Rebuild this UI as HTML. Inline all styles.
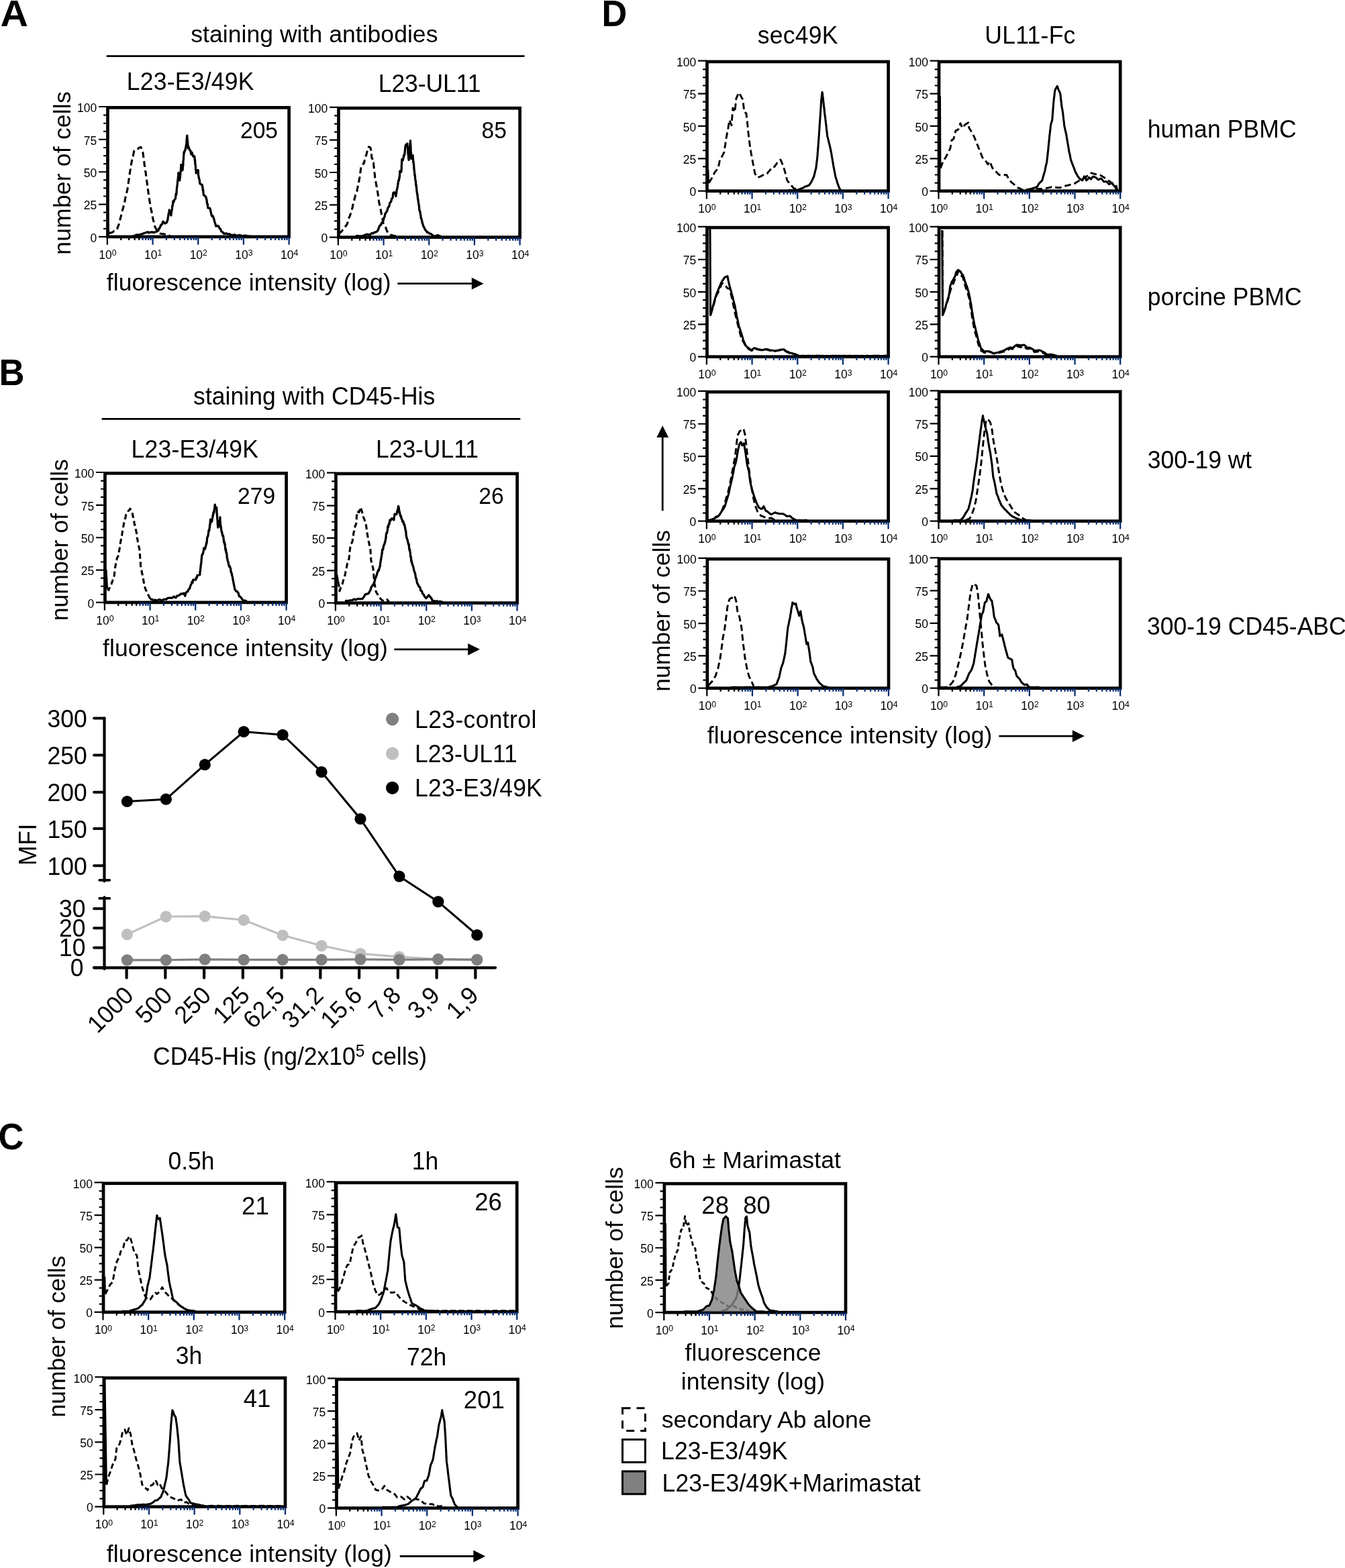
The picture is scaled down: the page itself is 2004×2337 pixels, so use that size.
<!DOCTYPE html>
<html lang="en">
<head>
<meta charset="utf-8">
<title>Figure</title>
<style>
html,body{margin:0;padding:0;background:#fff;}
body{width:2004px;height:2337px;overflow:hidden;}
svg{display:block;}
text{font-family:"Liberation Sans",Arial,Helvetica,sans-serif;fill:#000;}
</style>
</head>
<body>
<svg width="2004" height="2337" viewBox="0 0 2004 2337">
<rect width="2004" height="2337" fill="#fff"/>
<text transform="translate(0.57 39) scale(1.073 1.04)" font-size="53.5" font-weight="bold">A</text>
<text transform="translate(-1.52 574) scale(0.984 1.04)" font-size="53.5" font-weight="bold">B</text>
<text transform="translate(-2.45 1712.5) scale(0.981 1.04)" font-size="53.5" font-weight="bold">C</text>
<text transform="translate(896.4 39) scale(0.978 1.04)" font-size="53.5" font-weight="bold">D</text>
<text x="284.31" y="62.6" font-size="35.5" textLength="368.07" lengthAdjust="spacing">staining with antibodies</text>
<line x1="158.7" y1="83.7" x2="781.5" y2="83.7" stroke="#000" stroke-width="2.7"/>
<text transform="translate(188.79 133.7) scale(1 1.03)" font-size="35.5" textLength="189.71" lengthAdjust="spacing">L23-E3/49K</text>
<text transform="translate(563.79 136.6) scale(1 1.03)" font-size="35.5" textLength="152.65" lengthAdjust="spacing">L23-UL11</text>
<text transform="translate(104.6 379.76) rotate(-90) scale(1 1.0)" font-size="35.5" textLength="243.44" lengthAdjust="spacing">number of cells</text>
<text x="158.8" y="433.1" font-size="35.5" textLength="423.9" lengthAdjust="spacing">fluorescence intensity (log)</text>
<line x1="592.3" y1="422.7" x2="703.8" y2="422.7" stroke="#000" stroke-width="2.8"/>
<polygon points="720.6,422.7 702.8,413.8 702.8,431.6" fill="#000"/>
<g id="A1">
<clipPath id="c1"><rect x="158.45" y="158.35" width="274.15" height="196.75"/></clipPath>
<path d="M147 352.9H159.9M154.1 340.82H159.9M154.1 328.74H159.9M154.1 316.66H159.9M147 304.57H159.9M154.1 292.49H159.9M154.1 280.41H159.9M154.1 268.33H159.9M147 256.25H159.9M154.1 244.17H159.9M154.1 232.09H159.9M154.1 220.01H159.9M147 207.92H159.9M154.1 195.84H159.9M154.1 183.76H159.9M154.1 171.68H159.9M147 159H159.9" stroke="#000" stroke-width="2.2" fill="none"/>
<rect x="160.45" y="160.35" width="270.15" height="192.55" fill="none" stroke="#000" stroke-width="4.7"/>
<path d="M159.9 352.9V364.7M180.27 352.9V358M192.19 352.9V358M200.64 352.9V358M207.2 352.9V358" stroke="#000" stroke-width="2.25" fill="none"/>
<path d="M212.56 352.9V358M217.09 352.9V358M221.01 352.9V358M224.47 352.9V358M227.57 352.9V364.7M247.94 352.9V358M259.86 352.9V358M268.31 352.9V358M274.87 352.9V358M280.23 352.9V358M284.76 352.9V358M288.68 352.9V358M292.14 352.9V358M295.24 352.9V364.7M315.61 352.9V358M327.53 352.9V358M335.98 352.9V358M342.54 352.9V358M347.9 352.9V358M352.43 352.9V358M356.35 352.9V358M359.81 352.9V358M362.91 352.9V364.7M383.28 352.9V358M395.2 352.9V358M403.65 352.9V358M410.21 352.9V358M415.57 352.9V358M420.1 352.9V358M424.02 352.9V358M427.48 352.9V358M430.58 352.9V364.7" stroke="#062b70" stroke-width="2.25" fill="none"/>
<g clip-path="url(#c1)" fill="none" stroke="#000" stroke-width="3.3" stroke-linejoin="round" stroke-linecap="butt">
<polyline points="160.44,333.77 161.84,347.75"/>
<polyline points="162.34,347.75 165.14,346.9 167.93,345.99 169.93,344.4 171.93,344.17 173.93,342.37 174.73,341.18 175.53,337.78 176.33,336.47 177.12,334.68 177.92,331.17 178.49,328.93 179.07,326.88 179.64,324.19 180.21,322.74 180.78,319.49 181.35,318.51 181.92,315.85 182.49,313.03 183.06,311.44 183.63,309.85 184.2,306.67 184.77,303.59 185.34,301.14 185.91,300.68 186.41,296.57 186.91,294.29 187.41,292.21 187.91,290.88 188.41,289.07 188.91,286.42 189.41,284.31 189.91,282.48 190.24,279.64 190.58,278.29 190.91,274.43 191.24,273.35 191.57,270.79 191.91,267.29 192.24,266.53 192.57,263.18 192.91,262.28 193.24,258.96 193.57,256.3 193.91,254.8 194.24,252.67 194.57,251.17 194.9,248.48 195.24,247.39 195.57,243.44 195.9,243.05 196.47,239.12 197.04,237.22 197.62,233.74 198.19,233.03 198.76,229.78 199.33,227.27 199.9,224.68 201.4,223.96 202.9,222.48 205.23,222 207.56,219.95 209.89,219.24 211.09,222.31 212.28,224.4 212.61,226.67 212.93,227.17 213.26,230.57 213.58,231.65 213.91,235.67 214.23,238.38 214.56,238.96 214.88,241.99 215.18,245.29 215.48,247.57 215.78,247.87 216.08,251.91 216.38,253.59 216.68,255.72 216.98,256.25 217.28,258.24 217.58,261.62 217.88,263.72 218.18,265.89 218.48,267.61 218.78,270.2 219.08,272.71 219.38,273.95 219.68,278.12 219.98,278.07 220.28,281.08 220.58,283.44 220.88,285.59 221.21,289.02 221.54,289.85 221.87,292.11 222.21,294.24 222.54,296.38 222.87,299.51 223.21,300.63 223.54,302.76 223.87,305.8 224.32,307.41 224.76,310.56 225.2,312.64 225.65,314 226.09,316.55 226.54,319.83 226.98,321.1 227.42,324.18 227.87,326.04 228.47,328.84 229.07,330.08 229.67,333.12 230.26,334.92 230.86,337.94 232.2,340.48 233.53,342.68 234.86,344.44 236.52,346.54 238.19,347.87 239.85,348.33 242.52,348.57 245.18,349.22 247.84,349.54 250.84,350.92 253.84,351.65" stroke-width="3.1" stroke-dasharray="9 5"/>
<polyline points="197.9,351.6 200.56,351.49 203.23,349.89 205.89,350.19 208.89,349.5 211.89,348.58 214.88,347.5 217.88,346.54 219.88,345.74 221.87,347.02 223.87,346.11 226.87,345.95 229.86,346.6 231.86,345.43 233.86,344.99 235.86,343.7 236.86,340.48 237.86,340 238.85,337.78 239.85,335.09 241.35,334.58 242.85,330.32 245.85,333.06 247.18,332.4 248.51,331.38 249.84,327.41 250.24,324.53 250.64,322.6 251.04,318.83 251.44,319.91 251.84,316.77 252.24,312.82 253.11,317.08 253.97,317.57 254.84,320.96 255.21,317.7 255.59,314.97 255.96,312.92 256.34,312.53 256.71,307.01 257.08,306.89 257.46,305.56 257.83,299.81 258.83,300.96 259.83,297.81 260.83,297 261.5,295.29 262.16,288.91 262.83,290.07 263.06,285.17 263.29,283.45 263.52,280.01 263.75,278.11 263.98,276.95 264.21,274.38 264.44,272.45 264.67,269.45 264.9,268.59 265.13,268 265.36,264.67 265.59,261.88 265.82,257.54 266.49,260.12 267.16,265.06 267.82,268.88 268.04,263.36 268.27,265.78 268.49,260.31 268.71,260.87 268.93,256.74 269.15,255.48 269.38,253.97 269.6,251.35 269.82,245.36 270.49,247.64 271.15,252.99 271.82,253.88 271.99,251.89 272.16,252.92 272.33,248.95 272.5,245.36 272.67,247.37 272.85,245.76 273.02,239.56 273.19,238.43 273.36,238.49 273.53,234.46 273.7,231.81 273.87,229.81 274.04,226.65 274.21,228.65 275.08,225.05 275.95,223.83 276.81,219.02 277.1,219 277.38,216.11 277.67,216.72 277.95,211.5 278.24,207.27 278.52,204.76 278.81,202.14 279.01,210 279.21,206.5 279.41,214.33 279.61,210.77 279.81,214.18 280.01,220.86 280.21,217.13 281.51,220.57 282.81,223.9 283.8,224.42 284.8,230.06 285.8,227 287.8,233.12 289.8,232.91 290,236.65 290.2,237 290.4,240.37 290.6,238.21 290.8,244.85 291,244.36 291.2,245.5 291.4,249.33 291.6,253.08 291.8,253.44 291.99,253.6 292.19,258.02 293.49,256.32 294.79,253.54 295.17,253.64 295.54,261.1 295.92,262.41 296.29,265.2 296.66,265.72 297.04,268.04 297.41,268.75 297.79,273.7 300.79,275.46 301.16,275.38 301.53,278.83 301.91,278.23 302.28,283.96 302.66,282.84 303.03,287.7 303.41,290.9 303.78,290.74 306.78,293.46 307.28,296.28 307.78,296.57 308.28,300.91 308.78,304.55 309.28,303.78 309.77,309.82 312.77,310.29 313.37,312.31 313.97,314.98 314.57,318.2 315.17,320.67 315.77,322.14 317.27,321.91 318.76,326.28 319.51,329.4 320.26,332 321.01,334.23 321.76,337.09 323.76,336.71 325.76,337.17 327.09,340.5 328.42,341.02 329.75,344.93 331.75,346.05 333.75,348.41 336.74,347.88 339.74,348.87 342.24,348.95 344.74,350.38 347.23,350.29 349.73,349.9 352.06,351.16 354.39,351.15 356.72,350.29 359.05,351.04 361.38,352.16 363.71,351.24 366.21,351.06 368.71,351.94 371.21,352.32 373.7,352.1"/>
</g>
<text transform="translate(144.3 360.5) scale(1 1.03)" font-size="17.5" text-anchor="end">0</text>
<text transform="translate(144.3 312.18) scale(1 1.03)" font-size="17.5" text-anchor="end">25</text>
<text transform="translate(144.3 263.85) scale(1 1.03)" font-size="17.5" text-anchor="end">50</text>
<text transform="translate(144.3 215.52) scale(1 1.03)" font-size="17.5" text-anchor="end">75</text>
<text transform="translate(144.3 167.2) scale(1 1.03)" font-size="17.5" text-anchor="end">100</text>
<text transform="translate(147.3 385.6) scale(1 1.03)" font-size="17.5">10<tspan font-size="12.3" dy="-4.6">0</tspan></text>
<text transform="translate(214.97 385.6) scale(1 1.03)" font-size="17.5">10<tspan font-size="12.3" dy="-4.6">1</tspan></text>
<text transform="translate(282.64 385.6) scale(1 1.03)" font-size="17.5">10<tspan font-size="12.3" dy="-4.6">2</tspan></text>
<text transform="translate(350.31 385.6) scale(1 1.03)" font-size="17.5">10<tspan font-size="12.3" dy="-4.6">3</tspan></text>
<text transform="translate(417.98 385.6) scale(1 1.03)" font-size="17.5">10<tspan font-size="12.3" dy="-4.6">4</tspan></text>
</g>
<g id="A2">
<clipPath id="c2"><rect x="502.45" y="159.15" width="274.15" height="196.65"/></clipPath>
<path d="M491 353.6H503.9M498.1 341.53H503.9M498.1 329.45H503.9M498.1 317.38H503.9M491 305.3H503.9M498.1 293.23H503.9M498.1 281.15H503.9M498.1 269.08H503.9M491 257H503.9M498.1 244.93H503.9M498.1 232.85H503.9M498.1 220.78H503.9M491 208.7H503.9M498.1 196.62H503.9M498.1 184.55H503.9M498.1 172.47H503.9M491 159.8H503.9" stroke="#000" stroke-width="2.2" fill="none"/>
<rect x="504.45" y="161.15" width="270.15" height="192.45" fill="none" stroke="#000" stroke-width="4.7"/>
<path d="M503.9 353.6V365.4M524.27 353.6V358.7M536.19 353.6V358.7M544.64 353.6V358.7M551.2 353.6V358.7" stroke="#000" stroke-width="2.25" fill="none"/>
<path d="M556.56 353.6V358.7M561.09 353.6V358.7M565.01 353.6V358.7M568.47 353.6V358.7M571.57 353.6V365.4M591.94 353.6V358.7M603.86 353.6V358.7M612.31 353.6V358.7M618.87 353.6V358.7M624.23 353.6V358.7M628.76 353.6V358.7M632.68 353.6V358.7M636.14 353.6V358.7M639.24 353.6V365.4M659.61 353.6V358.7M671.53 353.6V358.7M679.98 353.6V358.7M686.54 353.6V358.7M691.9 353.6V358.7M696.43 353.6V358.7M700.35 353.6V358.7M703.81 353.6V358.7M706.91 353.6V365.4M727.28 353.6V358.7M739.2 353.6V358.7M747.65 353.6V358.7M754.21 353.6V358.7M759.57 353.6V358.7M764.1 353.6V358.7M768.02 353.6V358.7M771.48 353.6V358.7M774.58 353.6V365.4" stroke="#062b70" stroke-width="2.25" fill="none"/>
<g clip-path="url(#c2)" fill="none" stroke="#000" stroke-width="3.3" stroke-linejoin="round" stroke-linecap="butt">
<polyline points="504.94,348.75 506.94,346.66 508.94,345.03 510.6,342.64 512.27,340.94 513.93,339.32 514.93,337.18 515.93,335.79 516.93,334.38 517.93,331.8 518.59,329.32 519.26,327.25 519.93,325.03 520.59,323.13 521.26,321.94 521.92,319.99 522.59,317.95 523.26,315.39 523.92,313.01 524.59,311.31 525.25,308.94 525.92,304.98 526.52,303.16 527.12,301.61 527.72,298.83 528.32,295.48 528.92,293.62 529.66,290.5 530.41,289.15 531.16,286.57 531.91,284.79 532.41,281.11 532.91,279.31 533.41,275.83 533.91,275.31 534.41,271.66 534.91,270.23 535.24,266.6 535.57,266.13 535.91,264.22 536.24,261.26 536.57,259.91 536.91,256.39 537.24,254.88 537.57,251.4 537.91,249.12 539.4,247.93 540.9,246.46 541.65,242.74 542.4,243.1 543.15,239.31 543.9,238.01 544.5,235.31 545.1,232.51 545.7,231.5 546.3,228.51 546.9,226.28 547.54,224.19 548.19,221.27 548.84,221.13 549.49,218.93 551.89,219.94 552.18,221.26 552.46,222.56 552.75,224.04 553.03,228.89 553.32,228.94 553.6,231.27 553.89,235.19 554.69,236.14 555.49,239.77 556.28,243 556.52,242.85 556.76,246.73 556.99,247.36 557.23,251.59 557.47,252.29 557.7,253.95 557.94,256.17 558.17,259.01 558.41,260.3 558.65,264.32 558.88,266.43 559.31,267.25 559.74,269.59 560.17,273.04 560.59,274.69 561.02,277.96 561.45,278.75 561.88,281.21 562.21,283.24 562.54,285.89 562.88,287.79 563.21,289.69 563.54,292.77 563.88,295.82 564.21,297.24 564.54,300.46 564.88,302.16 565.37,304.05 565.87,306.44 566.37,308.69 566.87,311.23 567.37,313.19 567.87,316.03 568.3,318.53 568.73,321 569.16,322.28 569.58,324.92 570.01,327.29 570.44,328.82 570.87,332.08 571.87,334.48 572.87,335.77 573.86,337.6 574.86,339.36 575.86,342.59 576.86,344.58 577.86,347.22 579.86,348.16 581.86,349.92 583.85,350.43 586.35,351.4 588.85,351.67 591.35,351.55 593.84,352.28" stroke-width="3.1" stroke-dasharray="9 5"/>
<polyline points="529.91,352.3 532.41,351.42 534.91,351.81 537.41,351.92 539.9,351.81 542.57,350.74 545.23,349.57 547.89,349.17 549.89,350.17 551.89,349.36 553.89,347.55 555.89,347.9 557.88,346.28 559.88,345.84 561.88,344.98 563.21,342.86 564.54,339.41 565.87,336.25 567.21,335.41 568.54,332.67 569.87,330.77 570.54,329.78 571.2,328.59 571.87,324.62 572.53,324.46 573.2,322.53 573.86,318.22 574.86,317.93 575.86,315.48 576.86,314.24 577.61,310.93 578.36,309.02 579.11,308.14 579.86,307.55 580.86,302.24 581.86,301.67 582.85,299.99 583.6,295.96 584.35,295.68 585.1,294.54 585.85,287.55 587.05,286.61 588.25,287.6 589.05,288.82 589.85,292.51 590.25,289.84 590.65,287.97 591.05,283.2 591.45,282.81 591.84,280.74 592.51,277.48 593.18,272.41 593.84,269.19 594.18,268.09 594.51,268.94 594.84,264.5 595.17,264.77 595.51,262.8 595.84,254.99 597.84,256.18 597.96,253.46 598.09,254.22 598.21,251.81 598.34,247.36 598.46,244.05 598.59,245.07 598.71,238.17 598.84,237.58 600.34,238.67 601.83,231.27 602.21,232.08 602.58,230.58 602.96,228.81 603.33,225.24 603.71,220.45 604.08,217.77 604.46,216.03 604.83,215.97 606.83,213.92 607.03,219.03 607.23,218.59 607.43,219 607.63,221.86 607.83,224.31 608.03,230.12 608.23,230.54 608.43,230.23 608.63,235.85 608.83,235.73 609.04,238.36 609.26,233.47 609.47,233.72 609.69,230.16 609.91,223.9 610.12,222.99 610.34,223.12 610.56,220.57 610.77,219.49 610.99,213.63 611.21,216.19 611.42,209.71 611.55,214.11 611.68,214.67 611.8,218.38 611.93,217.27 612.06,222.47 612.19,227.69 612.31,227.16 612.44,226.74 612.57,234.37 612.69,236.57 612.82,234.14 613.49,231.94 614.15,232.98 614.82,232.04 615.04,231.47 615.26,235.32 615.48,236.9 615.71,240.71 615.93,242.84 616.15,240.98 616.37,245.16 616.59,245.34 616.82,250.22 617.1,253.28 617.39,254.61 617.67,257.78 617.96,261.8 618.24,260.89 618.53,264.43 618.81,267.72 619.1,269.89 619.39,269.22 619.67,274.45 619.96,277.43 620.24,275.72 620.53,280.27 620.81,282.06 621.1,286.35 621.38,286.94 621.67,290.64 621.95,288.78 622.24,292.74 622.52,296.63 622.81,296.46 623.14,299.47 623.48,302.64 623.81,303.78 624.14,305.84 624.47,307.6 624.81,312.92 625.31,314.45 625.81,314.87 626.31,318.84 626.81,320.66 627.3,325.38 627.8,325.55 628.4,327.82 629,330.99 629.6,333.22 630.2,334.66 630.8,337.28 632.13,339.28 633.46,342.33 634.8,343.74 636.46,346.23 638.13,346.5 639.79,348.1 641.79,348.3 643.79,350.11 645.78,351.53 648.18,351.87 650.58,351.21 652.98,350.72 655.37,352.39 657.77,352.07"/>
</g>
<text transform="translate(488.3 361.2) scale(1 1.03)" font-size="17.5" text-anchor="end">0</text>
<text transform="translate(488.3 312.9) scale(1 1.03)" font-size="17.5" text-anchor="end">25</text>
<text transform="translate(488.3 264.6) scale(1 1.03)" font-size="17.5" text-anchor="end">50</text>
<text transform="translate(488.3 216.3) scale(1 1.03)" font-size="17.5" text-anchor="end">75</text>
<text transform="translate(488.3 168) scale(1 1.03)" font-size="17.5" text-anchor="end">100</text>
<text transform="translate(491.3 386.3) scale(1 1.03)" font-size="17.5">10<tspan font-size="12.3" dy="-4.6">0</tspan></text>
<text transform="translate(558.97 386.3) scale(1 1.03)" font-size="17.5">10<tspan font-size="12.3" dy="-4.6">1</tspan></text>
<text transform="translate(626.64 386.3) scale(1 1.03)" font-size="17.5">10<tspan font-size="12.3" dy="-4.6">2</tspan></text>
<text transform="translate(694.31 386.3) scale(1 1.03)" font-size="17.5">10<tspan font-size="12.3" dy="-4.6">3</tspan></text>
<text transform="translate(761.98 386.3) scale(1 1.03)" font-size="17.5">10<tspan font-size="12.3" dy="-4.6">4</tspan></text>
</g>
<text transform="translate(358.01 206) scale(1 1.03)" font-size="33.6">205</text>
<text transform="translate(717.54 206) scale(1 1.03)" font-size="33.6">85</text>
<text transform="translate(288.11 603.3) scale(1 1.015)" font-size="35.5" textLength="360.17" lengthAdjust="spacing">staining with CD45-His</text>
<line x1="151.7" y1="624.3" x2="775.3" y2="624.3" stroke="#000" stroke-width="2.7"/>
<text transform="translate(195.59 681.9) scale(1 1.03)" font-size="35.5" textLength="189.41" lengthAdjust="spacing">L23-E3/49K</text>
<text transform="translate(559.99 682.2) scale(1 1.03)" font-size="35.5" textLength="152.95" lengthAdjust="spacing">L23-UL11</text>
<text transform="translate(100.6 925.16) rotate(-90) scale(1 1.0)" font-size="35.5" textLength="241.04" lengthAdjust="spacing">number of cells</text>
<text x="153" y="978.2" font-size="35.5" textLength="424.8" lengthAdjust="spacing">fluorescence intensity (log)</text>
<line x1="587.4" y1="967.8" x2="698.2" y2="967.8" stroke="#000" stroke-width="2.8"/>
<polygon points="715,967.8 697.2,958.9 697.2,976.7" fill="#000"/>
<g id="B1">
<clipPath id="c3"><rect x="154.45" y="703.35" width="274.15" height="196.75"/></clipPath>
<path d="M143 897.9H155.9M150.1 885.82H155.9M150.1 873.74H155.9M150.1 861.66H155.9M143 849.58H155.9M150.1 837.49H155.9M150.1 825.41H155.9M150.1 813.33H155.9M143 801.25H155.9M150.1 789.17H155.9M150.1 777.09H155.9M150.1 765.01H155.9M143 752.92H155.9M150.1 740.84H155.9M150.1 728.76H155.9M150.1 716.68H155.9M143 704H155.9" stroke="#000" stroke-width="2.2" fill="none"/>
<rect x="156.45" y="705.35" width="270.15" height="192.55" fill="none" stroke="#000" stroke-width="4.7"/>
<path d="M155.9 897.9V909.7M176.27 897.9V903M188.19 897.9V903M196.64 897.9V903M203.2 897.9V903" stroke="#000" stroke-width="2.25" fill="none"/>
<path d="M208.56 897.9V903M213.09 897.9V903M217.01 897.9V903M220.47 897.9V903M223.57 897.9V909.7M243.94 897.9V903M255.86 897.9V903M264.31 897.9V903M270.87 897.9V903M276.23 897.9V903M280.76 897.9V903M284.68 897.9V903M288.14 897.9V903M291.24 897.9V909.7M311.61 897.9V903M323.53 897.9V903M331.98 897.9V903M338.54 897.9V903M343.9 897.9V903M348.43 897.9V903M352.35 897.9V903M355.81 897.9V903M358.91 897.9V909.7M379.28 897.9V903M391.2 897.9V903M399.65 897.9V903M406.21 897.9V903M411.57 897.9V903M416.1 897.9V903M420.02 897.9V903M423.48 897.9V903M426.58 897.9V909.7" stroke="#062b70" stroke-width="2.25" fill="none"/>
<g clip-path="url(#c3)" fill="none" stroke="#000" stroke-width="3.3" stroke-linejoin="round" stroke-linecap="butt">
<polyline points="157.84,848.81 159.44,876.77"/>
<polyline points="159.94,876.77 161.94,879.48 162.94,876.74 163.93,875.13 164.93,873.11 165.93,871.33 166.6,868.05 167.26,867.43 167.93,864.53 168.6,863.42 169.26,861.28 169.93,859.17 170.23,857.46 170.53,854.9 170.83,852.62 171.13,850.66 171.43,847.77 171.73,844.63 172.03,843.49 172.33,841.97 172.62,838.16 172.92,835.86 173.67,834.7 174.42,831.89 175.17,830.46 175.92,828.79 176.35,827.66 176.78,823.19 177.21,822.32 177.63,820.32 178.06,818.6 178.49,814.99 178.92,812.81 179.29,809.81 179.67,807.83 180.04,806.11 180.42,802.95 180.79,802.34 181.17,799.63 181.54,797.93 181.91,795.95 182.34,792.34 182.77,790.62 183.2,788.36 183.63,785.68 184.05,783.18 184.48,780.69 184.91,778.19 185.51,776.02 186.11,773.54 186.71,772.61 187.31,769.29 187.91,766.86 189.41,765.12 190.9,761.85 192.4,760.45 193.9,758.22 194.9,760.47 195.9,762.3 196.9,763.95 197.4,765.86 197.9,768.67 198.4,770.79 198.9,773.77 199.39,776.45 199.89,777.84 200.49,782.53 201.09,782.54 201.69,785.71 202.29,789 202.89,792.02 203.22,792.99 203.56,795.19 203.89,797.97 204.22,801.47 204.56,803.61 204.89,803.88 205.39,807.76 205.89,810.7 206.39,812.09 206.89,815.31 207.39,816.46 207.89,818.9 208.04,820.68 208.19,822.3 208.35,825.08 208.5,827.1 208.65,828.92 208.81,831.63 208.96,833.26 209.11,836.01 209.27,838.5 209.42,839.95 209.58,843.14 209.73,845.64 209.88,847.56 210.48,849.47 211.08,850.94 211.68,854.91 212.28,856.21 212.88,858.46 213.21,860.91 213.55,863.11 213.88,865.93 214.21,867.49 214.54,870.4 214.88,872.03 215.68,874.72 216.48,876.92 217.27,879.32 218.07,880.63 218.87,883.26 219.87,884.66 220.87,886.62 221.87,888.86 222.87,890.27 223.87,892.97 225.86,893.67 227.86,894.91 229.86,896.73 232.26,896.78 234.66,896.16 237.05,896.21 239.45,897.04 241.85,896.94" stroke-width="3.1" stroke-dasharray="8 4.5"/>
<polyline points="223.87,893.76 226.36,893.18 228.86,894.87 231.36,894.21 233.86,895.55 236.25,893.77 238.65,893.92 241.05,894.99 243.45,893.6 245.84,893.04 247.84,893.33 249.84,891.46 251.84,891.07 253.83,891.08 256.5,891.23 259.16,888.97 261.82,891.08 263.82,888.18 265.82,887.76 267.82,886.57 269.82,884.84 271.81,885.16 273.81,884.08 275.81,888.16 277.14,883.28 278.47,882.11 279.8,881.7 281.14,878.14 282.47,877.58 283.8,873.02 284.6,871.1 285.4,869.93 286.2,867.06 287,868.58 287.8,864.11 291.79,864.12 292.54,860.62 293.29,861.27 294.04,857.44 294.79,857.52 297.78,856.71 298.03,852.02 298.28,851.28 298.53,849.91 298.78,846.39 299.03,844.89 299.28,840.97 299.53,841.3 299.78,839.47 300.03,836.1 300.28,832.3 300.53,831.3 300.78,827.98 301.53,825.8 302.28,825.77 303.03,821.84 303.78,816.86 305.28,818.61 306.77,813.26 307.11,812.39 307.44,809.04 307.77,810.1 308.11,808.3 308.44,804.36 308.77,800.9 309.52,800.09 310.27,796.73 311.02,790.56 311.77,790.78 312.05,787.4 312.34,786.47 312.62,782.17 312.91,782.93 313.2,778.77 313.48,774.23 313.77,774.67 314.76,778.2 315.76,776.93 316.16,773.73 316.56,772.03 316.96,768.57 317.36,769.46 317.76,764.33 318.16,765.72 318.56,762.42 318.96,763.55 319.36,758.93 319.76,757.9 320.16,752.14 321.46,758.06 322.76,756.62 322.92,759.89 323.09,765.58 323.26,765.98 323.42,766.95 323.59,769.69 323.75,773.24 323.92,774.52 324.09,775.5 324.25,781.01 324.42,783.15 324.59,780.56 324.75,786.11 325.25,784.18 325.75,780.87 326.25,777.13 326.75,776.1 327.25,775.84 327.75,774.38 327.92,771.02 328.08,775.91 328.25,777.21 328.42,782.11 328.58,785.75 328.75,782.89 329.35,786.56 329.95,792.27 330.55,792.13 331.15,796.27 331.75,798.5 332.25,798.12 332.74,799.67 333.24,804.24 333.74,808.61 334.24,807.49 334.74,811.51 335.17,810.7 335.6,817.09 336.03,819.89 336.45,817.95 336.88,823.27 337.31,823.5 337.74,824.82 338.24,831.47 338.74,832.42 339.24,835.95 339.74,837.3 340.24,838.4 340.74,841.37 341.48,844.38 342.23,843.74 342.98,846 343.73,848.17 344.23,853.28 344.73,853.28 345.23,854.49 345.73,857.9 346.23,859.23 346.73,861.67 347.16,864.89 347.58,866.51 348.01,868.58 348.44,871.25 348.87,872.88 349.3,875.01 349.73,877.83 351.72,881.27 353.72,881.9 355.05,883.83 356.38,888.77 357.72,889.06 359.71,891.55 361.71,894.19 363.71,895.38 365.71,895.21 367.71,896.22"/>
</g>
<text transform="translate(140.3 905.5) scale(1 1.03)" font-size="17.5" text-anchor="end">0</text>
<text transform="translate(140.3 857.18) scale(1 1.03)" font-size="17.5" text-anchor="end">25</text>
<text transform="translate(140.3 808.85) scale(1 1.03)" font-size="17.5" text-anchor="end">50</text>
<text transform="translate(140.3 760.52) scale(1 1.03)" font-size="17.5" text-anchor="end">75</text>
<text transform="translate(140.3 712.2) scale(1 1.03)" font-size="17.5" text-anchor="end">100</text>
<text transform="translate(143.3 930.6) scale(1 1.03)" font-size="17.5">10<tspan font-size="12.3" dy="-4.6">0</tspan></text>
<text transform="translate(210.97 930.6) scale(1 1.03)" font-size="17.5">10<tspan font-size="12.3" dy="-4.6">1</tspan></text>
<text transform="translate(278.64 930.6) scale(1 1.03)" font-size="17.5">10<tspan font-size="12.3" dy="-4.6">2</tspan></text>
<text transform="translate(346.31 930.6) scale(1 1.03)" font-size="17.5">10<tspan font-size="12.3" dy="-4.6">3</tspan></text>
<text transform="translate(413.98 930.6) scale(1 1.03)" font-size="17.5">10<tspan font-size="12.3" dy="-4.6">4</tspan></text>
</g>
<g id="B2">
<clipPath id="c4"><rect x="498.45" y="703.95" width="274.15" height="196.95"/></clipPath>
<path d="M487 898.7H499.9M494.1 886.61H499.9M494.1 874.51H499.9M494.1 862.42H499.9M487 850.33H499.9M494.1 838.23H499.9M494.1 826.14H499.9M494.1 814.04H499.9M487 801.95H499.9M494.1 789.86H499.9M494.1 777.76H499.9M494.1 765.67H499.9M487 753.58H499.9M494.1 741.48H499.9M494.1 729.39H499.9M494.1 717.29H499.9M487 704.6H499.9" stroke="#000" stroke-width="2.2" fill="none"/>
<rect x="500.45" y="705.95" width="270.15" height="192.75" fill="none" stroke="#000" stroke-width="4.7"/>
<path d="M499.9 898.7V910.5M520.27 898.7V903.8M532.19 898.7V903.8M540.64 898.7V903.8M547.2 898.7V903.8" stroke="#000" stroke-width="2.25" fill="none"/>
<path d="M552.56 898.7V903.8M557.09 898.7V903.8M561.01 898.7V903.8M564.47 898.7V903.8M567.57 898.7V910.5M587.94 898.7V903.8M599.86 898.7V903.8M608.31 898.7V903.8M614.87 898.7V903.8M620.23 898.7V903.8M624.76 898.7V903.8M628.68 898.7V903.8M632.14 898.7V903.8M635.24 898.7V910.5M655.61 898.7V903.8M667.53 898.7V903.8M675.98 898.7V903.8M682.54 898.7V903.8M687.9 898.7V903.8M692.43 898.7V903.8M696.35 898.7V903.8M699.81 898.7V903.8M702.91 898.7V910.5M723.28 898.7V903.8M735.2 898.7V903.8M743.65 898.7V903.8M750.21 898.7V903.8M755.57 898.7V903.8M760.1 898.7V903.8M764.02 898.7V903.8M767.48 898.7V903.8M770.58 898.7V910.5" stroke="#062b70" stroke-width="2.25" fill="none"/>
<g clip-path="url(#c4)" fill="none" stroke="#000" stroke-width="3.3" stroke-linejoin="round" stroke-linecap="butt">
<polyline points="501.84,856.8 503.44,866.79"/>
<polyline points="503.94,866.79 504.27,869.25 504.61,870.75 504.94,873.61 505.27,875.56 505.6,878.55 505.94,880.95 506.74,878.52 507.54,876.2 508.33,875.23 509.13,873.4 509.93,870.97 510.6,868.93 511.26,865.5 511.93,863.78 512.6,860.91 513.26,859.93 513.93,857.46 514.43,855.06 514.93,852.01 515.43,849.18 515.93,847.72 516.43,845.74 516.92,842.88 517.67,839.55 518.42,837.68 519.17,834.62 519.92,833.72 520.17,830.1 520.42,829.07 520.67,826.25 520.92,824.11 521.17,820.73 521.42,819.28 521.67,817 521.92,814.85 522.67,813.04 523.42,810.44 524.17,808.79 524.92,807.53 525.29,805.49 525.66,801.43 526.04,799.14 526.41,798.73 526.79,794.77 527.16,793.09 527.54,792.13 527.91,789.53 528.66,786.33 529.41,783.28 530.16,782.33 530.91,778.95 531.05,776.41 531.19,774.89 531.34,770.88 531.48,768.73 531.62,767.98 531.77,766.41 531.91,762.28 534.9,763.69 535.77,760.72 536.64,758.91 537.5,756.04 538.1,758.5 538.7,761.04 539.3,762.1 539.9,765.01 540.56,768.35 541.23,770.42 541.9,771.83 542.9,774.11 543.89,777.42 544.89,780.08 545.23,780.86 545.56,783.4 545.89,785.5 546.22,788.35 546.56,789.57 546.89,793.83 547.29,795.77 547.69,797.99 548.09,800.42 548.49,803.19 548.89,804.78 549.39,807.66 549.89,809.44 550.39,812.11 550.89,815.09 551.39,817.12 551.89,818.92 552.03,820.98 552.17,824.17 552.31,824.99 552.46,827.68 552.6,829.51 552.74,833.39 552.88,834.84 553.48,837.56 554.08,839.76 554.68,842.42 555.28,844.68 555.88,846.56 556.08,848.91 556.28,851.8 556.48,853.11 556.68,855.35 556.88,857.02 557.08,860.45 557.28,862.36 557.48,865.02 557.68,867.16 557.88,869.47 558.28,871.33 558.68,873.55 559.08,875.4 559.48,878.42 559.88,880.47 560.88,883.31 561.87,884.61 562.87,886.33 563.87,888.39 565.2,890.66 566.54,891.66 567.87,893.33 569.86,895.04 571.86,895.7 574.36,894.99 576.86,893.68 578.36,895.92 579.85,897.27" stroke-width="3.1" stroke-dasharray="8 4.5"/>
<polyline points="513.93,895.75 516.33,895.3 518.72,895.84 521.12,894.79 523.52,894.59 525.91,894.02 527.91,893.02 529.91,894.06 531.91,893.01 533.91,892.28 536.9,892.59 539.9,892.66 541.23,890.84 542.56,889.16 543.89,886.13 547.89,884.81 549.22,884.49 550.55,881.79 551.89,879.57 552.88,876.29 553.88,874.21 554.88,872.64 555.88,871.87 556.68,870.15 557.48,868.05 558.28,866.12 559.08,862.29 559.88,860.62 560.63,858.79 561.37,856.95 562.12,853.3 562.87,852.47 563.62,849.48 564.37,850.42 565.12,847.42 565.87,844.39 566.27,844.02 566.67,838.93 567.07,837.93 567.47,834 567.87,833.06 568.2,829.13 568.53,829.31 568.87,824.93 569.2,825.53 569.53,819.06 569.86,820.21 570.61,819.14 571.36,814.73 572.11,811.85 572.86,811.6 573.36,808.35 573.86,808.12 574.36,804.26 574.86,802.84 575.36,796.45 575.86,794.35 576.36,794.83 576.86,792.75 577.36,790.29 577.86,784.4 578.61,785.62 579.35,780.57 580.1,781.09 580.85,775.25 581.85,775.94 582.85,773.79 583.85,772.65 586.85,774.97 587.51,769.53 588.18,766.2 588.84,766.56 589.84,766.59 590.84,766.7 591.27,764.82 591.71,761.99 592.14,763.81 592.57,758.89 593.01,759.12 593.44,754.41 594.04,755.68 594.64,760.52 595.24,762.65 595.84,765.26 596.58,769.32 597.33,768.79 598.08,772.63 598.83,773.9 599.83,777.61 600.83,776.87 601.83,781.74 602.49,781.43 603.16,784.26 603.83,788.17 604.16,789.97 604.49,790.82 604.83,791.75 605.16,797.73 605.49,799.31 605.82,800.98 606.57,803.35 607.32,805.19 608.07,809.19 608.82,811.83 609.22,810.94 609.62,817.06 610.02,820.16 610.42,818.33 610.82,821.29 611.22,823.18 611.62,829.71 612.02,828.97 612.42,831.27 612.82,836.81 613.42,836.31 614.02,840.75 614.61,840.78 615.21,843.63 615.81,845.02 616.56,849.05 617.31,851.62 618.06,853.39 618.81,855.91 619.41,860.17 620.01,862.83 620.61,863.06 621.21,867.85 621.81,869.76 622.81,870.67 623.8,873.8 624.8,874.55 625.8,875.44 626.8,880.23 627.8,880.11 628.8,881.96 629.8,885.04 631.05,885.83 632.29,888.61 633.54,890.07 634.79,891.67 636.79,889.72 638.79,886.88 640.79,889.34 642.78,891.75 643.78,893.94 644.78,896.11 646.92,895.58 649.06,896.64 651.2,895.75 653.34,897.25 655.48,896.22 657.62,897.08 659.76,897.25"/>
</g>
<text transform="translate(484.3 906.3) scale(1 1.03)" font-size="17.5" text-anchor="end">0</text>
<text transform="translate(484.3 857.93) scale(1 1.03)" font-size="17.5" text-anchor="end">25</text>
<text transform="translate(484.3 809.55) scale(1 1.03)" font-size="17.5" text-anchor="end">50</text>
<text transform="translate(484.3 761.18) scale(1 1.03)" font-size="17.5" text-anchor="end">75</text>
<text transform="translate(484.3 712.8) scale(1 1.03)" font-size="17.5" text-anchor="end">100</text>
<text transform="translate(487.3 931.4) scale(1 1.03)" font-size="17.5">10<tspan font-size="12.3" dy="-4.6">0</tspan></text>
<text transform="translate(554.97 931.4) scale(1 1.03)" font-size="17.5">10<tspan font-size="12.3" dy="-4.6">1</tspan></text>
<text transform="translate(622.64 931.4) scale(1 1.03)" font-size="17.5">10<tspan font-size="12.3" dy="-4.6">2</tspan></text>
<text transform="translate(690.31 931.4) scale(1 1.03)" font-size="17.5">10<tspan font-size="12.3" dy="-4.6">3</tspan></text>
<text transform="translate(757.98 931.4) scale(1 1.03)" font-size="17.5">10<tspan font-size="12.3" dy="-4.6">4</tspan></text>
</g>
<text transform="translate(354.11 750.9) scale(1 1.03)" font-size="33.6">279</text>
<text transform="translate(713.31 750.8) scale(1 1.03)" font-size="33.6">26</text>
<g id="linechart" stroke="#000" fill="none" stroke-width="4.2" stroke-linecap="round">
<path d="M155.5 1070.4V1313.3M155.5 1337.4V1444.1"/>
<path d="M140.1 1442.3H738"/>
<path d="M140.1 1070.4H155.5M140.1 1125.5H155.5M140.1 1180.8H155.5M140.1 1234.9H155.5M140.1 1290.2H155.5M140.1 1354.2H155.5M140.1 1383.3H155.5M140.1 1412.6H155.5M140.1 1442.3H155.5" stroke-width="4"/>
<path d="M148.2 1311.8H163.3M148.2 1338.9H163.3" stroke-width="3.8"/>
<path d="M188.6 1442.3V1457.4M246.35 1442.3V1457.4M304.1 1442.3V1457.4M361.85 1442.3V1457.4M419.6 1442.3V1457.4M477.35 1442.3V1457.4M535.1 1442.3V1457.4M592.85 1442.3V1457.4M650.6 1442.3V1457.4M708.35 1442.3V1457.4"/>
</g>
<polyline points="189.4,1392.57 247.33,1366.09 305.26,1365.62 363.19,1371.29 421.12,1393.98 479.05,1409.58 536.98,1421.4 594.91,1426.13 652.84,1429.44 710.77,1430.38" fill="none" stroke="#bfbfbf" stroke-width="3.1"/>
<circle cx="189.4" cy="1392.57" r="8.6" fill="#bfbfbf"/>
<circle cx="247.33" cy="1366.09" r="8.6" fill="#bfbfbf"/>
<circle cx="305.26" cy="1365.62" r="8.6" fill="#bfbfbf"/>
<circle cx="363.19" cy="1371.29" r="8.6" fill="#bfbfbf"/>
<circle cx="421.12" cy="1393.98" r="8.6" fill="#bfbfbf"/>
<circle cx="479.05" cy="1409.58" r="8.6" fill="#bfbfbf"/>
<circle cx="536.98" cy="1421.4" r="8.6" fill="#bfbfbf"/>
<circle cx="594.91" cy="1426.13" r="8.6" fill="#bfbfbf"/>
<circle cx="652.84" cy="1429.44" r="8.6" fill="#bfbfbf"/>
<circle cx="710.77" cy="1430.38" r="8.6" fill="#bfbfbf"/>
<polyline points="189.4,1430.86 247.33,1430.86 305.26,1429.91 363.19,1430.38 421.12,1430.38 479.05,1430.38 536.98,1429.91 594.91,1430.38 652.84,1429.91 710.77,1430.38" fill="none" stroke="#7f7f7f" stroke-width="3.1"/>
<circle cx="189.4" cy="1430.86" r="8.6" fill="#7f7f7f"/>
<circle cx="247.33" cy="1430.86" r="8.6" fill="#7f7f7f"/>
<circle cx="305.26" cy="1429.91" r="8.6" fill="#7f7f7f"/>
<circle cx="363.19" cy="1430.38" r="8.6" fill="#7f7f7f"/>
<circle cx="421.12" cy="1430.38" r="8.6" fill="#7f7f7f"/>
<circle cx="479.05" cy="1430.38" r="8.6" fill="#7f7f7f"/>
<circle cx="536.98" cy="1429.91" r="8.6" fill="#7f7f7f"/>
<circle cx="594.91" cy="1430.38" r="8.6" fill="#7f7f7f"/>
<circle cx="652.84" cy="1429.91" r="8.6" fill="#7f7f7f"/>
<circle cx="710.77" cy="1430.38" r="8.6" fill="#7f7f7f"/>
<polyline points="189.4,1194.5 247.33,1191.19 305.26,1139.67 363.19,1090.51 421.12,1095.23 479.05,1150.54 536.98,1220.5 594.91,1306.06 652.84,1343.88 710.77,1393.51" fill="none" stroke="#000" stroke-width="3.1"/>
<circle cx="189.4" cy="1194.5" r="8.6" fill="#000"/>
<circle cx="247.33" cy="1191.19" r="8.6" fill="#000"/>
<circle cx="305.26" cy="1139.67" r="8.6" fill="#000"/>
<circle cx="363.19" cy="1090.51" r="8.6" fill="#000"/>
<circle cx="421.12" cy="1095.23" r="8.6" fill="#000"/>
<circle cx="479.05" cy="1150.54" r="8.6" fill="#000"/>
<circle cx="536.98" cy="1220.5" r="8.6" fill="#000"/>
<circle cx="594.91" cy="1306.06" r="8.6" fill="#000"/>
<circle cx="652.84" cy="1343.88" r="8.6" fill="#000"/>
<circle cx="710.77" cy="1393.51" r="8.6" fill="#000"/>
<text transform="translate(129.69 1084) scale(1 1.03)" font-size="35.5" text-anchor="end">300</text>
<text transform="translate(129.69 1139.1) scale(1 1.03)" font-size="35.5" text-anchor="end">250</text>
<text transform="translate(129.69 1194.4) scale(1 1.03)" font-size="35.5" text-anchor="end">200</text>
<text transform="translate(129.69 1248.5) scale(1 1.03)" font-size="35.5" text-anchor="end">150</text>
<text transform="translate(129.69 1303.8) scale(1 1.03)" font-size="35.5" text-anchor="end">100</text>
<text transform="translate(127.59 1366.5) scale(1 1.03)" font-size="35.5" text-anchor="end">30</text>
<text transform="translate(127.59 1395.6) scale(1 1.03)" font-size="35.5" text-anchor="end">20</text>
<text transform="translate(127.59 1424.9) scale(1 1.03)" font-size="35.5" text-anchor="end">10</text>
<text transform="translate(124.39 1455.1) scale(1 1.03)" font-size="35.5" text-anchor="end">0</text>
<text transform="translate(201 1485.8) rotate(-45) scale(1 1.03)" font-size="35.5" text-anchor="end">1000</text>
<text transform="translate(258.75 1485.8) rotate(-45) scale(1 1.03)" font-size="35.5" text-anchor="end">500</text>
<text transform="translate(316.5 1485.8) rotate(-45) scale(1 1.03)" font-size="35.5" text-anchor="end">250</text>
<text transform="translate(374.25 1485.8) rotate(-45) scale(1 1.03)" font-size="35.5" text-anchor="end">125</text>
<text transform="translate(426.2 1485.8) rotate(-45) scale(1 1.03)" font-size="35.5" text-anchor="end">62,5</text>
<text transform="translate(483.95 1485.8) rotate(-45) scale(1 1.03)" font-size="35.5" text-anchor="end">31,2</text>
<text transform="translate(541.7 1485.8) rotate(-45) scale(1 1.03)" font-size="35.5" text-anchor="end">15,6</text>
<text transform="translate(599.45 1485.8) rotate(-45) scale(1 1.03)" font-size="35.5" text-anchor="end">7,8</text>
<text transform="translate(657.2 1485.8) rotate(-45) scale(1 1.03)" font-size="35.5" text-anchor="end">3,9</text>
<text transform="translate(714.95 1485.8) rotate(-45) scale(1 1.03)" font-size="35.5" text-anchor="end">1,9</text>
<text transform="translate(54 1290.01) rotate(-90) scale(1 1.03)" font-size="35.5" textLength="62.49" lengthAdjust="spacing">MFI</text>
<text transform="translate(228.07 1587.1) scale(1 1.015)" font-size="35.5">CD45-His (ng/2x10<tspan font-size="24.5" dy="-12">5</tspan><tspan dy="12"> cells)</tspan></text>
<circle cx="584.6" cy="1071.8" r="9.6" fill="#7f7f7f"/>
<text transform="translate(618.09 1085) scale(1 1.015)" font-size="35.5" textLength="181.19" lengthAdjust="spacing">L23-control</text>
<circle cx="584.6" cy="1123.1" r="9.6" fill="#bfbfbf"/>
<text transform="translate(618.09 1136.2) scale(1 1.03)" font-size="35.5" textLength="152.55" lengthAdjust="spacing">L23-UL11</text>
<circle cx="584.6" cy="1174.3" r="9.6" fill="#000"/>
<text transform="translate(618.09 1186.9) scale(1 1.03)" font-size="35.5" textLength="189.71" lengthAdjust="spacing">L23-E3/49K</text>
<text transform="translate(285 1742.9) scale(1 1.03)" font-size="35.5" text-anchor="middle">0.5h</text>
<text transform="translate(633.5 1742.9) scale(1 1.015)" font-size="35.5" text-anchor="middle">1h</text>
<text transform="translate(281.4 2033.1) scale(1 1.015)" font-size="35.5" text-anchor="middle">3h</text>
<text transform="translate(635.7 2035.4) scale(1 1.03)" font-size="35.5" text-anchor="middle">72h</text>
<text transform="translate(96.9 2112.56) rotate(-90) scale(1 1.0)" font-size="35.5" textLength="241.04" lengthAdjust="spacing">number of cells</text>
<text x="158.8" y="2328.4" font-size="35.5" textLength="425" lengthAdjust="spacing">fluorescence intensity (log)</text>
<line x1="595.8" y1="2319.5" x2="706.3" y2="2319.5" stroke="#000" stroke-width="2.8"/>
<polygon points="723.1,2319.5 705.3,2310.6 705.3,2328.4" fill="#000"/>
<g id="C1">
<clipPath id="c5"><rect x="152.05" y="1761.75" width="274.15" height="196.15"/></clipPath>
<path d="M140.6 1955.7H153.5M147.7 1943.66H153.5M147.7 1931.61H153.5M147.7 1919.57H153.5M140.6 1907.53H153.5M147.7 1895.48H153.5M147.7 1883.44H153.5M147.7 1871.39H153.5M140.6 1859.35H153.5M147.7 1847.31H153.5M147.7 1835.26H153.5M147.7 1823.22H153.5M140.6 1811.17H153.5M147.7 1799.13H153.5M147.7 1787.09H153.5M147.7 1775.04H153.5M140.6 1762.4H153.5" stroke="#000" stroke-width="2.2" fill="none"/>
<rect x="154.05" y="1763.75" width="270.15" height="191.95" fill="none" stroke="#000" stroke-width="4.7"/>
<path d="M153.5 1955.7V1967.5M173.87 1955.7V1960.8M185.79 1955.7V1960.8M194.24 1955.7V1960.8M200.8 1955.7V1960.8" stroke="#000" stroke-width="2.25" fill="none"/>
<path d="M206.16 1955.7V1960.8M210.69 1955.7V1960.8M214.61 1955.7V1960.8M218.07 1955.7V1960.8M221.17 1955.7V1967.5M241.54 1955.7V1960.8M253.46 1955.7V1960.8M261.91 1955.7V1960.8M268.47 1955.7V1960.8M273.83 1955.7V1960.8M278.36 1955.7V1960.8M282.28 1955.7V1960.8M285.74 1955.7V1960.8M288.84 1955.7V1967.5M309.21 1955.7V1960.8M321.13 1955.7V1960.8M329.58 1955.7V1960.8M336.14 1955.7V1960.8M341.5 1955.7V1960.8M346.03 1955.7V1960.8M349.95 1955.7V1960.8M353.41 1955.7V1960.8M356.51 1955.7V1967.5M376.88 1955.7V1960.8M388.8 1955.7V1960.8M397.25 1955.7V1960.8M403.81 1955.7V1960.8M409.17 1955.7V1960.8M413.7 1955.7V1960.8M417.62 1955.7V1960.8M421.08 1955.7V1960.8M424.18 1955.7V1967.5" stroke="#062b70" stroke-width="2.25" fill="none"/>
<g clip-path="url(#c5)" fill="none" stroke="#000" stroke-width="3.1" stroke-linejoin="round" stroke-linecap="butt">
<polyline points="155.84,1902.81 156.44,1928.78"/>
<polyline points="156.94,1928.78 157.94,1926.65 158.94,1924.78 159.94,1922.63 160.94,1920.94 161.93,1918.62 162.93,1916.73 163.93,1914.93 165.93,1912.66 167.93,1910.95 168.3,1908.55 168.68,1906.28 169.05,1904.16 169.43,1901.66 169.8,1899.55 170.18,1897.21 170.55,1894.96 170.92,1892.8 171.52,1890.64 172.12,1888.05 172.72,1885.71 173.32,1883.3 173.92,1881.01 174.92,1878.63 175.92,1876.74 176.92,1874.62 177.92,1872.93 178.58,1870.07 179.25,1867.55 179.91,1865.03 181.25,1862.77 182.58,1861.1 183.91,1858.98 184.41,1856.48 184.91,1854.04 185.41,1851.12 185.91,1848.73 188.9,1848.73 190.24,1847.08 191.57,1844.87 192.9,1842.65 193.77,1844.97 194.63,1846.7 195.5,1849.03 196.1,1851.11 196.7,1853.75 197.29,1856.22 197.89,1858.7 198.64,1861.38 199.39,1863.97 200.14,1866.15 200.89,1868.7 203.89,1870.61 204.11,1872.87 204.33,1875.22 204.55,1877.66 204.78,1879.51 205,1881.96 205.22,1884.15 205.44,1886.47 205.66,1888.76 205.89,1890.7 206.38,1892.99 206.88,1895.48 207.38,1897.63 207.88,1899.98 208.38,1902.31 208.88,1904.72 209.38,1907.16 209.88,1909.59 210.38,1911.94 210.88,1914.26 211.38,1916.43 211.88,1918.68 212.54,1920.88 213.21,1922.79 213.88,1924.82 214.54,1926.83 215.21,1928.92 215.87,1930.84 217.21,1932.75 218.54,1934.89 219.87,1936.72 223.86,1936.72 225.2,1934.89 226.53,1932.7 227.86,1930.88 229.86,1928.7 231.86,1926.77 233.85,1928.72 235.85,1926.87 237.85,1924.94 239.18,1922.89 240.51,1920.71 241.84,1918.62 242.84,1920.87 243.84,1922.66 244.84,1924.65 246.84,1926.83 248.84,1928.65 250.83,1930.88 252.83,1932.75 254.5,1934.06 256.16,1935.45 257.83,1936.79 259.32,1938.39 260.82,1939.79 262.32,1941.37 263.82,1942.71 265.82,1944.32 267.82,1945.89 269.81,1947.17 271.81,1948.71 273.81,1949.68 275.81,1950.74 277.8,1951.73 279.8,1952.74 282.2,1953.01 284.6,1953.39 286.99,1953.71 289.39,1954.05 291.79,1954.34" stroke-width="2.9" stroke-dasharray="8 4.5"/>
<polyline points="181.91,1954.4 184.41,1954.22 186.91,1954.49 189.4,1954.38 191.9,1954.57 193.9,1953.55 195.9,1952.88 197.89,1952.46 199.89,1951.63 201.89,1951.19 203.89,1950.65 205.89,1949.92 207.88,1948.28 209.88,1946.15 211.88,1945.01 213.13,1942.47 214.38,1940.8 215.62,1938.48 216.87,1936.86 217.21,1934.69 217.54,1932.06 217.87,1930.09 218.2,1927.7 218.54,1925.37 218.87,1923.56 219.2,1920.9 219.54,1918.7 219.87,1916.38 220.47,1914.23 221.07,1912.08 221.67,1909.23 222.27,1906.87 222.87,1905.14 223.14,1902.59 223.41,1899.98 223.68,1898.73 223.96,1895.66 224.23,1894.15 224.5,1891.7 224.77,1889.81 225.05,1887.37 225.32,1885.47 225.59,1883.12 225.86,1880.43 226.14,1878.56 226.41,1876.76 226.68,1873.85 226.95,1871.86 227.22,1869.54 227.5,1867.97 227.77,1865.34 228.04,1863.73 228.31,1861.5 228.59,1858.64 228.86,1856.32 229.09,1854.98 229.32,1852.69 229.55,1849.83 229.78,1848.55 230.01,1846.32 230.24,1844.38 230.47,1841.83 230.7,1839.58 230.93,1837.12 231.16,1835.78 231.39,1833.49 231.63,1830.72 231.86,1828.65 232.11,1827.38 232.36,1824.33 232.61,1821.96 232.85,1821.02 233.1,1817.79 233.35,1815.57 233.6,1813.55 233.85,1811.49 234.85,1814.52 235.85,1816.97 238.25,1815.41 238.58,1817.44 238.91,1820.04 239.25,1821.62 239.58,1824.53 239.91,1826.59 240.25,1829.41 240.57,1831.65 240.9,1833.12 241.22,1835.56 241.55,1837.57 241.87,1840.32 242.19,1841.88 242.52,1844.48 242.84,1847.29 243.12,1849.63 243.39,1851.53 243.66,1852.98 243.93,1855.65 244.21,1857.23 244.48,1859.76 244.75,1862.68 245.02,1864.11 245.3,1866.85 245.57,1868.46 245.84,1870.65 246.34,1873.27 246.84,1875.34 247.34,1878.11 247.84,1880.18 248.34,1883.01 248.84,1884.89 249.11,1886.83 249.38,1889.05 249.65,1891.18 249.93,1893.95 250.2,1895.93 250.47,1898.24 250.74,1899.93 251.02,1901.8 251.29,1904.02 251.56,1906.2 251.83,1908.99 252.33,1910.94 252.83,1913.71 253.33,1915.99 253.83,1918.51 254.33,1920.64 254.83,1922.62 255.33,1925.25 255.83,1927.1 256.33,1929.75 256.83,1932.23 257.33,1934.19 257.83,1936.65 259.49,1937.94 261.16,1939.62 262.82,1940.61 264.49,1942.43 266.15,1944.07 267.82,1945.51 269.81,1947.11 271.81,1948.38 273.81,1949.8 275.81,1950.88 277.8,1951.88 279.8,1952.84 282.2,1953.09 284.6,1953.36 286.99,1953.57 289.39,1954.27 291.79,1954.43"/>
</g>
<text transform="translate(137.9 1963.3) scale(1 1.03)" font-size="17.5" text-anchor="end">0</text>
<text transform="translate(137.9 1915.12) scale(1 1.03)" font-size="17.5" text-anchor="end">25</text>
<text transform="translate(137.9 1866.95) scale(1 1.03)" font-size="17.5" text-anchor="end">50</text>
<text transform="translate(137.9 1818.77) scale(1 1.03)" font-size="17.5" text-anchor="end">75</text>
<text transform="translate(137.9 1770.6) scale(1 1.03)" font-size="17.5" text-anchor="end">100</text>
<text transform="translate(140.9 1988.4) scale(1 1.03)" font-size="17.5">10<tspan font-size="12.3" dy="-4.6">0</tspan></text>
<text transform="translate(208.57 1988.4) scale(1 1.03)" font-size="17.5">10<tspan font-size="12.3" dy="-4.6">1</tspan></text>
<text transform="translate(276.24 1988.4) scale(1 1.03)" font-size="17.5">10<tspan font-size="12.3" dy="-4.6">2</tspan></text>
<text transform="translate(343.91 1988.4) scale(1 1.03)" font-size="17.5">10<tspan font-size="12.3" dy="-4.6">3</tspan></text>
<text transform="translate(411.58 1988.4) scale(1 1.03)" font-size="17.5">10<tspan font-size="12.3" dy="-4.6">4</tspan></text>
</g>
<g id="C2">
<clipPath id="c6"><rect x="498.05" y="1760.75" width="274.15" height="196.55"/></clipPath>
<path d="M486.6 1955.1H499.5M493.7 1943.03H499.5M493.7 1930.96H499.5M493.7 1918.89H499.5M486.6 1906.82H499.5M493.7 1894.76H499.5M493.7 1882.69H499.5M493.7 1870.62H499.5M486.6 1858.55H499.5M493.7 1846.48H499.5M493.7 1834.41H499.5M493.7 1822.34H499.5M486.6 1810.28H499.5M493.7 1798.21H499.5M493.7 1786.14H499.5M493.7 1774.07H499.5M486.6 1761.4H499.5" stroke="#000" stroke-width="2.2" fill="none"/>
<rect x="500.05" y="1762.75" width="270.15" height="192.35" fill="none" stroke="#000" stroke-width="4.7"/>
<path d="M499.5 1955.1V1966.9M519.87 1955.1V1960.2M531.79 1955.1V1960.2M540.24 1955.1V1960.2M546.8 1955.1V1960.2" stroke="#000" stroke-width="2.25" fill="none"/>
<path d="M552.16 1955.1V1960.2M556.69 1955.1V1960.2M560.61 1955.1V1960.2M564.07 1955.1V1960.2M567.17 1955.1V1966.9M587.54 1955.1V1960.2M599.46 1955.1V1960.2M607.91 1955.1V1960.2M614.47 1955.1V1960.2M619.83 1955.1V1960.2M624.36 1955.1V1960.2M628.28 1955.1V1960.2M631.74 1955.1V1960.2M634.84 1955.1V1966.9M655.21 1955.1V1960.2M667.13 1955.1V1960.2M675.58 1955.1V1960.2M682.14 1955.1V1960.2M687.5 1955.1V1960.2M692.03 1955.1V1960.2M695.95 1955.1V1960.2M699.41 1955.1V1960.2M702.51 1955.1V1966.9M722.88 1955.1V1960.2M734.8 1955.1V1960.2M743.25 1955.1V1960.2M749.81 1955.1V1960.2M755.17 1955.1V1960.2M759.7 1955.1V1960.2M763.62 1955.1V1960.2M767.08 1955.1V1960.2M770.18 1955.1V1966.9" stroke="#062b70" stroke-width="2.25" fill="none"/>
<g clip-path="url(#c6)" fill="none" stroke="#000" stroke-width="3.1" stroke-linejoin="round" stroke-linecap="butt">
<polyline points="501.84,1764.96 502.64,1924.78"/>
<polyline points="503.14,1924.78 504.54,1922.93 505.94,1920.83 506.69,1918.68 507.44,1916.86 508.18,1914.91 508.93,1912.61 509.68,1910.36 510.43,1907.71 511.18,1905.4 511.93,1902.79 512.53,1900.32 513.13,1897.92 513.73,1895.82 514.33,1893.15 514.93,1890.61 515.93,1888.74 516.92,1886.97 517.92,1884.92 520.92,1884.85 521.35,1882.32 521.78,1880.42 522.2,1877.93 522.63,1875.86 523.06,1873.56 523.49,1870.93 523.92,1868.71 524.52,1866.66 525.12,1864.02 525.71,1861.41 526.31,1859.49 526.91,1857.07 528.41,1854.82 529.91,1852.76 530.91,1850.64 531.91,1848.95 532.91,1846.63 533.91,1844.66 536.4,1843.49 538.9,1841.64 539.3,1844.09 539.7,1846.29 540.1,1848.61 540.5,1850.92 540.9,1852.91 541.65,1855.36 542.4,1857.97 543.15,1860.2 543.89,1863.04 544.49,1865.12 545.09,1867.67 545.69,1870.01 546.29,1872.3 546.89,1874.69 547.49,1877.4 548.09,1879.44 548.69,1881.83 549.29,1884.41 549.89,1886.7 550.49,1889.04 551.09,1891.44 551.69,1893.98 552.28,1896.29 552.88,1898.99 553.38,1901.1 553.88,1903.49 554.38,1905.68 554.88,1908.17 555.38,1910.64 555.88,1912.75 556.63,1915.14 557.38,1917.94 558.13,1920.17 558.88,1922.71 559.88,1924.73 560.88,1926.84 561.87,1928.94 562.87,1930.67 564.87,1929.77 566.87,1928.64 568.37,1926.86 569.86,1924.9 571.86,1923.24 573.86,1921.31 575.86,1919.7 577.36,1922.19 578.85,1924.71 581.35,1925.89 583.85,1926.73 586.85,1926.12 589.84,1925.74 591.34,1928.19 592.84,1930.7 594.5,1932.84 596.17,1934.89 597.83,1936.72 599.83,1938.24 601.83,1939.49 603.83,1940.89 605.82,1942.12 607.82,1943.45 609.82,1944.85 611.82,1945.39 613.82,1946.16 615.81,1947.08 617.81,1947.7 619.81,1948.8 621.81,1949.65 623.8,1950.68 625.8,1951.82 628.13,1952 630.46,1952.4 632.79,1952.77 635.12,1953.1 637.46,1953.45 639.79,1953.77 641.93,1953.74 644.07,1953.84 646.21,1953.79 648.35,1953.85 650.49,1953.71 652.63,1953.81 654.77,1953.81 656.91,1953.82 659.05,1953.77 661.19,1953.88 663.33,1953.72 665.47,1953.79 667.61,1953.75 669.75,1953.84 671.88,1953.76 674.01,1953.77 676.14,1953.85 678.26,1953.76 680.39,1953.83 682.52,1953.89 684.65,1953.76 686.78,1953.81 688.9,1953.85 691.03,1953.81 693.16,1953.88 695.29,1953.73 697.42,1953.77 699.54,1953.76 701.67,1953.84 703.8,1953.72 705.93,1953.86 708.06,1953.75 710.19,1953.77 712.31,1953.8 714.44,1953.8 716.57,1953.86 718.7,1953.85 720.83,1953.84 722.95,1953.85 725.08,1953.84 727.21,1953.85 729.34,1953.85 731.47,1953.78 733.59,1953.87 735.72,1953.79 737.85,1953.77 739.98,1953.76 742.11,1953.73 744.23,1953.87 746.36,1953.74 748.49,1953.78 750.62,1953.76 752.75,1953.77 754.87,1953.84 757,1953.77 759.13,1953.77 761.26,1953.72 763.39,1953.74 765.51,1953.79 767.64,1953.84" stroke-width="2.9" stroke-dasharray="8 4.5"/>
<polyline points="529.91,1953.8 532.19,1953.84 534.48,1953.66 536.76,1953.65 539.04,1953.84 541.33,1953.95 543.61,1953.85 545.89,1953.68 547.89,1953.05 549.89,1952.15 551.89,1951.44 553.88,1950.86 556.38,1950.05 558.88,1949.69 560.54,1948.13 562.21,1946.22 563.87,1944.56 564.87,1942.89 565.87,1940.75 566.87,1938.54 567.87,1936.57 568.53,1934.45 569.2,1932.83 569.86,1930.96 570.53,1928.77 571.2,1926.91 571.86,1924.7 572.29,1922.46 572.72,1919.89 573.15,1918.22 573.58,1915.94 574,1912.98 574.43,1910.92 574.86,1909.04 575.29,1906.77 575.72,1904.5 576.14,1901.96 576.57,1900 577,1897.19 577.43,1895.47 577.86,1893.17 578.06,1890.15 578.26,1888.76 578.46,1885.77 578.66,1884.47 578.85,1881.35 579.05,1879.34 579.25,1877.69 579.45,1875.74 579.65,1873.14 579.85,1871.3 580.08,1868.57 580.3,1866.04 580.52,1864.01 580.74,1862.25 580.96,1859.33 581.19,1857.36 581.41,1855.65 581.63,1853.31 581.85,1851.38 582.28,1848.21 582.71,1845.78 583.14,1844.6 583.56,1841.18 583.99,1839.65 584.42,1837.3 584.85,1835.26 585.45,1832.24 586.05,1830.14 586.65,1828.32 587.25,1824.91 587.84,1822.51 588.18,1820.13 588.51,1817.93 588.84,1816.1 589.18,1814.02 589.51,1811.96 589.84,1809.75 590.11,1812.15 590.38,1814.29 590.64,1815.82 590.91,1817.79 591.17,1820.93 591.44,1822.79 591.71,1824.34 591.97,1826.74 592.24,1829.01 594.84,1830.42 595.04,1833.03 595.24,1835.81 595.44,1837.41 595.64,1839.16 595.84,1842.12 596.04,1844.36 596.24,1846.65 596.44,1848.45 596.63,1850.24 596.83,1853.33 597.08,1854.68 597.33,1857.05 597.58,1860.04 597.83,1862.25 598.08,1864.13 598.33,1866.32 598.58,1868.09 598.83,1870.94 599.58,1873.63 600.33,1875.73 601.08,1878.42 601.83,1880.56 601.98,1883.48 602.14,1884.88 602.29,1886.88 602.44,1889.61 602.6,1891.41 602.75,1893.27 602.9,1896.15 603.06,1897.68 603.21,1900.13 603.37,1902.45 603.52,1904.45 603.67,1907.09 603.83,1908.81 604.43,1910.86 605.03,1913.44 605.62,1916.05 606.22,1918.49 606.82,1920.8 607.57,1923.52 608.32,1926.01 609.07,1928.57 609.82,1931.11 610.49,1933.08 611.15,1934.55 611.82,1936.58 612.48,1939.06 613.15,1941 613.82,1942.82 615.81,1943.7 617.81,1944.65 619.81,1945.55 621.81,1947 623.8,1948.34 625.8,1949.69 627.8,1950.94 629.8,1951.67 631.8,1952.83 633.79,1953.83 636.19,1953.61 638.59,1953.91 640.98,1953.64 643.38,1953.64 645.78,1953.69"/>
</g>
<text transform="translate(483.9 1962.7) scale(1 1.03)" font-size="17.5" text-anchor="end">0</text>
<text transform="translate(483.9 1914.42) scale(1 1.03)" font-size="17.5" text-anchor="end">25</text>
<text transform="translate(483.9 1866.15) scale(1 1.03)" font-size="17.5" text-anchor="end">50</text>
<text transform="translate(483.9 1817.88) scale(1 1.03)" font-size="17.5" text-anchor="end">75</text>
<text transform="translate(483.9 1769.6) scale(1 1.03)" font-size="17.5" text-anchor="end">100</text>
<text transform="translate(486.9 1987.8) scale(1 1.03)" font-size="17.5">10<tspan font-size="12.3" dy="-4.6">0</tspan></text>
<text transform="translate(554.57 1987.8) scale(1 1.03)" font-size="17.5">10<tspan font-size="12.3" dy="-4.6">1</tspan></text>
<text transform="translate(622.24 1987.8) scale(1 1.03)" font-size="17.5">10<tspan font-size="12.3" dy="-4.6">2</tspan></text>
<text transform="translate(689.91 1987.8) scale(1 1.03)" font-size="17.5">10<tspan font-size="12.3" dy="-4.6">3</tspan></text>
<text transform="translate(757.58 1987.8) scale(1 1.03)" font-size="17.5">10<tspan font-size="12.3" dy="-4.6">4</tspan></text>
</g>
<g id="C3">
<clipPath id="c7"><rect x="152.85" y="2051.75" width="274.15" height="196.15"/></clipPath>
<path d="M141.4 2245.7H154.3M148.5 2233.66H154.3M148.5 2221.61H154.3M148.5 2209.57H154.3M141.4 2197.52H154.3M148.5 2185.48H154.3M148.5 2173.44H154.3M148.5 2161.39H154.3M141.4 2149.35H154.3M148.5 2137.31H154.3M148.5 2125.26H154.3M148.5 2113.22H154.3M141.4 2101.18H154.3M148.5 2089.13H154.3M148.5 2077.09H154.3M148.5 2065.04H154.3M141.4 2052.4H154.3" stroke="#000" stroke-width="2.2" fill="none"/>
<rect x="154.85" y="2053.75" width="270.15" height="191.95" fill="none" stroke="#000" stroke-width="4.7"/>
<path d="M154.3 2245.7V2257.5M174.67 2245.7V2250.8M186.59 2245.7V2250.8M195.04 2245.7V2250.8M201.6 2245.7V2250.8" stroke="#000" stroke-width="2.25" fill="none"/>
<path d="M206.96 2245.7V2250.8M211.49 2245.7V2250.8M215.41 2245.7V2250.8M218.87 2245.7V2250.8M221.97 2245.7V2257.5M242.34 2245.7V2250.8M254.26 2245.7V2250.8M262.71 2245.7V2250.8M269.27 2245.7V2250.8M274.63 2245.7V2250.8M279.16 2245.7V2250.8M283.08 2245.7V2250.8M286.54 2245.7V2250.8M289.64 2245.7V2257.5M310.01 2245.7V2250.8M321.93 2245.7V2250.8M330.38 2245.7V2250.8M336.94 2245.7V2250.8M342.3 2245.7V2250.8M346.83 2245.7V2250.8M350.75 2245.7V2250.8M354.21 2245.7V2250.8M357.31 2245.7V2257.5M377.68 2245.7V2250.8M389.6 2245.7V2250.8M398.05 2245.7V2250.8M404.61 2245.7V2250.8M409.97 2245.7V2250.8M414.5 2245.7V2250.8M418.42 2245.7V2250.8M421.88 2245.7V2250.8M424.98 2245.7V2257.5" stroke="#062b70" stroke-width="2.25" fill="none"/>
<g clip-path="url(#c7)" fill="none" stroke="#000" stroke-width="3.1" stroke-linejoin="round" stroke-linecap="butt">
<polyline points="155.84,2054.96 158.44,2212.79"/>
<polyline points="158.94,2212.79 159.44,2210.31 159.94,2207.8 160.44,2205.34 160.94,2202.76 161.69,2200.71 162.43,2198.81 163.18,2196.62 163.93,2194.77 164.6,2192.67 165.26,2190.75 165.93,2188.62 166.6,2186.8 167.26,2184.61 167.93,2182.68 168.93,2181.03 169.93,2178.95 170.92,2176.87 171.92,2175.03 172.17,2172.76 172.42,2170.4 172.67,2167.95 172.92,2165.73 173.17,2163.56 173.42,2161.17 173.67,2159.31 173.92,2156.78 175.92,2154.9 177.92,2152.61 178.67,2150.22 179.42,2148.08 180.16,2145.29 180.91,2142.72 181.41,2140.49 181.91,2137.62 182.41,2135.22 182.91,2133.1 185.91,2130.7 186.66,2133.01 187.41,2135.03 188.16,2137.1 188.9,2138.7 189.65,2136.46 190.4,2133.8 191.15,2131.55 191.9,2128.75 192.65,2131.59 193.4,2133.81 194.15,2136.14 194.9,2138.98 195.23,2141.2 195.56,2143.62 195.9,2145.78 196.23,2148.35 196.56,2150.31 196.9,2152.75 197.64,2155.41 198.39,2158.02 199.14,2160.21 199.89,2162.86 200.49,2165.09 201.09,2167.67 201.69,2170.06 202.29,2172.63 202.89,2175.01 203.64,2177.25 204.39,2179.68 205.14,2182.28 205.89,2184.97 206.48,2187.24 207.08,2189.5 207.68,2192.02 208.28,2194.6 208.88,2196.75 209.31,2199.05 209.74,2201.48 210.17,2203.62 210.59,2205.8 211.02,2208.2 211.45,2210.56 211.88,2212.79 213.88,2214.64 215.87,2216.83 217.87,2218.83 219.87,2220.92 221.2,2218.77 222.53,2216.68 223.86,2214.76 225.86,2213.62 227.86,2212.67 229.19,2210.31 230.52,2208.23 231.86,2205.96 232.85,2208.22 233.85,2210.36 234.85,2212.95 237.85,2210.91 238.85,2213.29 239.85,2215.33 240.85,2217.62 242.34,2219.13 243.84,2220.64 245.84,2222.69 247.84,2224.92 249.17,2226.82 250.5,2228.74 251.83,2230.7 253.83,2231.32 255.83,2232.05 257.83,2232.9 259.82,2234.01 261.82,2235.31 263.82,2236.68 265.82,2236.06 267.82,2235.43 269.81,2234.82 271.15,2236.49 272.48,2238.04 273.81,2239.69 277.8,2238.69 279.8,2240.13 281.8,2241.53 283.8,2242.85 286.19,2243.16 288.59,2243.33 290.99,2243.74 293.39,2244.08 295.78,2244.43 297.94,2244.47 300.09,2244.41 302.24,2244.33 304.39,2244.44 306.54,2244.49 308.69,2244.46 310.84,2244.45 313,2244.39 315.15,2244.32 317.3,2244.42 319.45,2244.38 321.6,2244.44 323.75,2244.32 325.89,2244.32 328.02,2244.45 330.15,2244.4 332.29,2244.46 334.42,2244.41 336.56,2244.43 338.69,2244.35 340.82,2244.35 342.96,2244.41 345.09,2244.37 347.23,2244.48 349.36,2244.39 351.49,2244.33 353.63,2244.32 355.76,2244.35 357.9,2244.32 360.03,2244.45 362.16,2244.4 364.3,2244.43 366.43,2244.33 368.57,2244.46 370.7,2244.33 372.83,2244.37 374.97,2244.4 377.1,2244.36 379.24,2244.41 381.37,2244.33 383.5,2244.36 385.64,2244.35 387.77,2244.31 389.91,2244.34 392.04,2244.31 394.17,2244.42 396.31,2244.4 398.44,2244.38 400.57,2244.41 402.71,2244.4 404.84,2244.33 406.98,2244.47 409.11,2244.31 411.24,2244.48 413.38,2244.39 415.51,2244.44 417.65,2244.46 420.14,2244.43 422.64,2244.37" stroke-width="2.9" stroke-dasharray="8 4.5"/>
<polyline points="193.9,2244.4 196.23,2244.11 198.56,2243.71 200.89,2243.73 203.22,2243.11 205.55,2242.91 207.88,2242.81 210.38,2242.75 212.88,2242.34 215.37,2242.51 217.87,2242.54 220.54,2241.91 223.2,2241.51 225.86,2240.72 227.53,2239.38 229.19,2238.3 230.86,2236.49 234.85,2235.81 236.52,2233.86 238.18,2232.46 239.85,2231.02 240.65,2228.46 241.45,2226.87 242.24,2225.11 243.04,2222.84 243.84,2220.49 244.34,2218.52 244.84,2215.92 245.34,2213.7 245.84,2211.39 246.34,2209.47 246.84,2207.57 247.34,2204.93 247.84,2202.78 248.11,2200.57 248.38,2198.7 248.66,2196.29 248.93,2193.94 249.2,2191.62 249.47,2189.39 249.74,2187.25 250.02,2185 250.29,2183.66 250.56,2181.31 250.83,2179.02 251,2176.78 251.17,2174.1 251.33,2172.12 251.5,2170.45 251.67,2167.79 251.83,2166.16 252,2163.25 252.17,2161.56 252.33,2159.81 252.5,2157.7 252.67,2154.79 252.83,2152.54 252.97,2150.74 253.12,2148.67 253.26,2146.29 253.4,2144.4 253.55,2142 253.69,2139.85 253.83,2137.74 253.97,2135.16 254.12,2134.14 254.26,2131.72 254.4,2129.44 254.54,2127.32 254.69,2124.79 254.83,2122.64 255.03,2120.82 255.23,2118.26 255.43,2116.98 255.63,2114.15 255.83,2112.83 256.03,2110.93 256.23,2107.87 256.43,2105.69 256.63,2103.72 256.83,2101.8 257.83,2103.81 258.83,2106.72 259.82,2109.54 260.82,2110.73 261.82,2112.51 262.16,2115.03 262.49,2118.07 262.82,2119.74 263.15,2122.84 263.49,2124.76 263.82,2126.29 264.04,2129.31 264.26,2131.76 264.49,2133.9 264.71,2136.32 264.93,2138.57 265.15,2140.04 265.37,2142.89 265.6,2145.01 265.82,2146.75 265.95,2148.83 266.08,2150.66 266.22,2152.89 266.35,2155.74 266.48,2157.57 266.62,2159.75 266.75,2162.26 266.88,2164.19 267.02,2166.16 267.15,2168.02 267.28,2170.55 267.42,2172.1 267.55,2174.76 267.68,2176.62 267.82,2178.95 268.19,2180.83 268.56,2183.25 268.94,2185.3 269.31,2187.84 269.69,2190.36 270.06,2192.14 270.44,2194.5 270.81,2196.7 271.19,2198.77 271.56,2201.14 271.94,2203.55 272.31,2205.47 272.68,2208.18 273.06,2210.39 273.43,2212.81 273.81,2215.01 274.31,2216.74 274.81,2219.21 275.31,2221.82 275.81,2223.89 276.31,2226.65 276.81,2228.62 278.14,2231 279.47,2232.89 280.8,2234.53 282.3,2237.09 283.8,2239.88 286.46,2240.58 289.12,2241.15 291.79,2241.88 294.19,2242.41 296.58,2242.74 298.98,2243.54 301.38,2243.7 303.77,2244.23"/>
</g>
<text transform="translate(138.7 2253.3) scale(1 1.03)" font-size="17.5" text-anchor="end">0</text>
<text transform="translate(138.7 2205.12) scale(1 1.03)" font-size="17.5" text-anchor="end">25</text>
<text transform="translate(138.7 2156.95) scale(1 1.03)" font-size="17.5" text-anchor="end">50</text>
<text transform="translate(138.7 2108.78) scale(1 1.03)" font-size="17.5" text-anchor="end">75</text>
<text transform="translate(138.7 2060.6) scale(1 1.03)" font-size="17.5" text-anchor="end">100</text>
<text transform="translate(141.7 2278.4) scale(1 1.03)" font-size="17.5">10<tspan font-size="12.3" dy="-4.6">0</tspan></text>
<text transform="translate(209.37 2278.4) scale(1 1.03)" font-size="17.5">10<tspan font-size="12.3" dy="-4.6">1</tspan></text>
<text transform="translate(277.04 2278.4) scale(1 1.03)" font-size="17.5">10<tspan font-size="12.3" dy="-4.6">2</tspan></text>
<text transform="translate(344.71 2278.4) scale(1 1.03)" font-size="17.5">10<tspan font-size="12.3" dy="-4.6">3</tspan></text>
<text transform="translate(412.38 2278.4) scale(1 1.03)" font-size="17.5">10<tspan font-size="12.3" dy="-4.6">4</tspan></text>
</g>
<g id="C4">
<clipPath id="c8"><rect x="499.45" y="2053.75" width="274.15" height="196.15"/></clipPath>
<path d="M488 2247.7H500.9M495.1 2235.66H500.9M495.1 2223.61H500.9M495.1 2211.57H500.9M488 2199.52H500.9M495.1 2187.48H500.9M495.1 2175.44H500.9M495.1 2163.39H500.9M488 2151.35H500.9M495.1 2139.31H500.9M495.1 2127.26H500.9M495.1 2115.22H500.9M488 2103.18H500.9M495.1 2091.13H500.9M495.1 2079.09H500.9M495.1 2067.04H500.9M488 2054.4H500.9" stroke="#000" stroke-width="2.2" fill="none"/>
<rect x="501.45" y="2055.75" width="270.15" height="191.95" fill="none" stroke="#000" stroke-width="4.7"/>
<path d="M500.9 2247.7V2259.5M521.27 2247.7V2252.8M533.19 2247.7V2252.8M541.64 2247.7V2252.8M548.2 2247.7V2252.8" stroke="#000" stroke-width="2.25" fill="none"/>
<path d="M553.56 2247.7V2252.8M558.09 2247.7V2252.8M562.01 2247.7V2252.8M565.47 2247.7V2252.8M568.57 2247.7V2259.5M588.94 2247.7V2252.8M600.86 2247.7V2252.8M609.31 2247.7V2252.8M615.87 2247.7V2252.8M621.23 2247.7V2252.8M625.76 2247.7V2252.8M629.68 2247.7V2252.8M633.14 2247.7V2252.8M636.24 2247.7V2259.5M656.61 2247.7V2252.8M668.53 2247.7V2252.8M676.98 2247.7V2252.8M683.54 2247.7V2252.8M688.9 2247.7V2252.8M693.43 2247.7V2252.8M697.35 2247.7V2252.8M700.81 2247.7V2252.8M703.91 2247.7V2259.5M724.28 2247.7V2252.8M736.2 2247.7V2252.8M744.65 2247.7V2252.8M751.21 2247.7V2252.8M756.57 2247.7V2252.8M761.1 2247.7V2252.8M765.02 2247.7V2252.8M768.48 2247.7V2252.8M771.58 2247.7V2259.5" stroke="#062b70" stroke-width="2.25" fill="none"/>
<g clip-path="url(#c8)" fill="none" stroke="#000" stroke-width="3.1" stroke-linejoin="round" stroke-linecap="butt">
<polyline points="501.84,2056.96 503.84,2218.78"/>
<polyline points="504.34,2218.78 504.99,2216.74 505.64,2214.89 506.29,2212.85 506.94,2210.88 507.69,2208.34 508.43,2205.7 509.18,2203.34 509.93,2200.85 510.68,2198.69 511.43,2196.7 512.18,2194.83 512.93,2192.69 513.53,2190.28 514.13,2188.22 514.73,2185.75 515.33,2183.43 515.93,2180.73 516.67,2178.85 517.42,2177.04 518.17,2174.69 518.92,2173.05 519.67,2170.75 520.42,2169 521.17,2166.99 521.92,2164.71 522.26,2162.67 522.6,2160.1 522.95,2157.77 523.29,2155.71 523.63,2153.55 523.97,2151.08 524.32,2148.92 524.97,2146.99 525.61,2144.69 526.26,2142.65 526.91,2140.89 528.58,2138.98 530.24,2137.28 531.91,2136.04 532.51,2137.89 533.11,2140.06 533.71,2142.42 534.31,2144.66 534.9,2147.01 535.9,2144.96 536.9,2142.65 537.9,2140.77 538.12,2143.17 538.34,2145.47 538.57,2147.71 538.79,2149.77 539.01,2152.09 539.23,2153.99 539.45,2156.26 539.68,2158.62 539.9,2161.04 540.65,2163.52 541.4,2165.74 542.15,2168.1 542.9,2170.65 543.39,2173.3 543.89,2175.47 544.39,2178.02 544.89,2180.12 545.39,2182.47 545.89,2184.91 546.39,2187.01 546.89,2189.41 547.39,2191.82 547.89,2194.27 548.39,2196.29 548.89,2198.89 549.64,2200.83 550.39,2202.62 551.14,2204.86 551.89,2206.89 553.22,2208.7 554.55,2210.81 555.88,2212.76 556.88,2214.73 557.88,2216.84 558.88,2218.73 559.88,2220.68 562.37,2221.19 564.87,2221.74 567.37,2220.34 569.86,2218.81 571.36,2216.67 572.86,2214.65 574.19,2216.78 575.53,2218.69 576.86,2220.85 579.35,2222.36 581.85,2223.7 583.85,2224.67 585.85,2225.76 587.84,2226.84 589.18,2228.31 590.51,2230.06 591.84,2231.74 594.84,2231.17 597.83,2230.81 599.5,2232.17 601.16,2233.51 602.83,2234.86 604.83,2232.63 606.82,2230.71 608.49,2231.97 610.15,2233.44 611.82,2234.69 614.31,2234.32 616.81,2233.82 619.31,2234.16 621.81,2234.8 624.3,2235.13 626.8,2235.72 628.47,2237.55 630.13,2239.19 631.8,2240.75 634.79,2241.14 637.79,2241.72 640.12,2241.87 642.45,2241.71 644.78,2241.84 646.28,2243.25 647.78,2244.85 650.27,2244.66 652.77,2244.8 655.27,2244.83 657.77,2244.68 660.76,2245.48 663.76,2246.35" stroke-width="2.9" stroke-dasharray="8 4.5"/>
<polyline points="569.86,2246.4 572.08,2246.23 574.3,2246.52 576.52,2246.46 578.74,2246.37 580.96,2246.45 583.18,2246.41 585.4,2246.27 587.62,2246.31 589.84,2246.38 592.34,2245.91 594.84,2244.86 597.33,2244.39 599.83,2243.89 602.49,2243.26 605.16,2242.62 607.82,2241.81 609.82,2240.08 611.82,2238.59 613.82,2236.54 615.81,2235.51 617.81,2234.21 619.81,2232.59 620.81,2230.69 621.81,2228.56 622.81,2226.85 623.8,2225.11 624.8,2222.63 625.8,2220.78 626.8,2218.73 629.8,2216.41 630.55,2214.44 631.3,2211.49 632.04,2209.03 632.79,2207.03 635.79,2206.87 636.54,2204.88 637.29,2203.16 638.04,2200.73 638.79,2199.18 639.22,2196.45 639.64,2194.28 640.07,2192.29 640.5,2189.28 640.93,2187.33 641.36,2185.18 641.78,2183.19 642.78,2181.09 643.78,2178.62 644.78,2176.53 645.18,2174.4 645.58,2172.28 645.98,2169.65 646.38,2167.16 646.78,2164.77 647.18,2161.98 647.58,2159.96 647.98,2157.85 648.38,2154.97 648.78,2153.31 649.28,2151 649.77,2148.15 650.27,2145.8 650.77,2143.55 651.27,2141.67 651.77,2139.18 652.11,2136.03 652.44,2134.04 652.77,2131.35 653.1,2130.02 653.44,2126.68 653.77,2124.91 654.37,2122.47 654.97,2120.14 655.57,2117.28 656.17,2115.49 656.77,2112.68 657.17,2111.35 657.57,2109.16 657.97,2106.28 658.37,2104.67 658.76,2101.89 659.16,2104.6 659.56,2106.25 659.96,2108.75 660.36,2110.32 660.76,2112.72 661.46,2115.53 662.16,2118.81 662.31,2121.49 662.45,2122.71 662.6,2125.29 662.74,2128.04 662.89,2129.74 663.03,2131.86 663.18,2134.7 663.32,2136.21 663.47,2137.92 663.61,2140.24 663.76,2143.15 663.86,2144.97 663.96,2147.47 664.06,2149.63 664.16,2151.87 664.26,2153.01 664.36,2155.8 664.46,2158.15 664.56,2159.59 664.66,2162.43 664.76,2163.77 664.86,2166.24 664.96,2168.74 665.06,2170.96 665.16,2172.42 665.26,2174.94 665.36,2177.16 665.62,2179.53 665.89,2181.4 666.16,2183.18 666.42,2185.83 666.69,2187.77 666.96,2189.75 667.22,2191.94 667.49,2195.05 667.75,2197.15 668.04,2198.7 668.33,2201.64 668.61,2203.88 668.9,2205.69 669.18,2208.2 669.47,2210.28 669.75,2212.47 670.04,2215.14 670.32,2217.38 670.61,2219.85 670.89,2221.95 671.18,2224.26 671.46,2226.26 671.75,2228.94 672.75,2230.62 673.75,2232.81 674.75,2234.81 675.5,2237.04 676.25,2238.81 676.99,2240.81 677.74,2242.54 679.74,2244.8 681.74,2246.52"/>
</g>
<text transform="translate(485.3 2255.3) scale(1 1.03)" font-size="17.5" text-anchor="end">0</text>
<text transform="translate(485.3 2207.12) scale(1 1.03)" font-size="17.5" text-anchor="end">25</text>
<text transform="translate(485.3 2158.95) scale(1 1.03)" font-size="17.5" text-anchor="end">20</text>
<text transform="translate(485.3 2110.78) scale(1 1.03)" font-size="17.5" text-anchor="end">75</text>
<text transform="translate(485.3 2062.6) scale(1 1.03)" font-size="17.5" text-anchor="end">100</text>
<text transform="translate(488.3 2280.4) scale(1 1.03)" font-size="17.5">10<tspan font-size="12.3" dy="-4.6">0</tspan></text>
<text transform="translate(555.97 2280.4) scale(1 1.03)" font-size="17.5">10<tspan font-size="12.3" dy="-4.6">1</tspan></text>
<text transform="translate(623.64 2280.4) scale(1 1.03)" font-size="17.5">10<tspan font-size="12.3" dy="-4.6">2</tspan></text>
<text transform="translate(691.31 2280.4) scale(1 1.03)" font-size="17.5">10<tspan font-size="12.3" dy="-4.6">3</tspan></text>
<text transform="translate(758.98 2280.4) scale(1 1.03)" font-size="17.5">10<tspan font-size="12.3" dy="-4.6">4</tspan></text>
</g>
<g id="C5">
<clipPath id="c9"><rect x="987.85" y="1762.15" width="274.15" height="196.15"/></clipPath>
<path d="M976.4 1956.1H989.3M983.5 1944.06H989.3M983.5 1932.01H989.3M983.5 1919.97H989.3M976.4 1907.92H989.3M983.5 1895.88H989.3M983.5 1883.84H989.3M983.5 1871.79H989.3M976.4 1859.75H989.3M983.5 1847.71H989.3M983.5 1835.66H989.3M983.5 1823.62H989.3M976.4 1811.58H989.3M983.5 1799.53H989.3M983.5 1787.49H989.3M983.5 1775.44H989.3M976.4 1762.8H989.3" stroke="#000" stroke-width="2.2" fill="none"/>
<rect x="989.85" y="1764.15" width="270.15" height="191.95" fill="none" stroke="#000" stroke-width="4.7"/>
<path d="M989.3 1956.1V1967.9M1009.67 1956.1V1961.2M1021.59 1956.1V1961.2M1030.04 1956.1V1961.2M1036.6 1956.1V1961.2" stroke="#000" stroke-width="2.25" fill="none"/>
<path d="M1041.96 1956.1V1961.2M1046.49 1956.1V1961.2M1050.41 1956.1V1961.2M1053.87 1956.1V1961.2M1056.97 1956.1V1967.9M1077.34 1956.1V1961.2M1089.26 1956.1V1961.2M1097.71 1956.1V1961.2M1104.27 1956.1V1961.2M1109.63 1956.1V1961.2M1114.16 1956.1V1961.2M1118.08 1956.1V1961.2M1121.54 1956.1V1961.2M1124.64 1956.1V1967.9M1145.01 1956.1V1961.2M1156.93 1956.1V1961.2M1165.38 1956.1V1961.2M1171.94 1956.1V1961.2M1177.3 1956.1V1961.2M1181.83 1956.1V1961.2M1185.75 1956.1V1961.2M1189.21 1956.1V1961.2M1192.31 1956.1V1967.9M1212.68 1956.1V1961.2M1224.6 1956.1V1961.2M1233.05 1956.1V1961.2M1239.61 1956.1V1961.2M1244.97 1956.1V1961.2M1249.5 1956.1V1961.2M1253.42 1956.1V1961.2M1256.88 1956.1V1961.2M1259.98 1956.1V1967.9" stroke="#062b70" stroke-width="2.25" fill="none"/>
<g clip-path="url(#c9)" fill="none" stroke="#000" stroke-width="3.1" stroke-linejoin="round" stroke-linecap="butt">
<polyline points="991.24,1822.9 992.04,1916.79"/>
<polyline points="992.54,1916.79 994.24,1914.71 995.94,1912.88 996.22,1910.61 996.51,1908.26 996.79,1905.84 997.08,1903.8 997.36,1901.17 997.65,1898.91 997.93,1896.65 999.27,1894.65 1000.6,1892.74 1001.93,1890.63 1002.33,1888.35 1002.73,1886.08 1003.13,1883.72 1003.53,1881.07 1003.93,1878.92 1004.68,1876.46 1005.43,1874.07 1006.17,1871.33 1006.92,1868.72 1007.92,1866.92 1008.92,1864.84 1009.92,1862.95 1010.21,1860.42 1010.49,1858.35 1010.78,1855.97 1011.06,1853.89 1011.35,1851.47 1011.63,1848.89 1011.92,1846.62 1012.42,1844.34 1012.92,1842 1013.42,1839.9 1013.92,1837.3 1014.42,1835.46 1014.91,1833.17 1017.91,1830.81 1018.24,1828.57 1018.56,1826.34 1018.88,1824.25 1019.21,1821.81 1019.53,1819.87 1019.86,1817.53 1020.18,1815.25 1020.51,1812.72 1020.91,1815.41 1021.31,1817.67 1021.71,1820.01 1022.11,1822.52 1022.51,1824.36 1022.91,1827.18 1024.4,1824.97 1025.9,1823.15 1026.19,1824.95 1026.47,1827.74 1026.76,1829.72 1027.04,1831.77 1027.33,1834.31 1027.61,1836.77 1027.9,1839.1 1028.65,1841.12 1029.4,1844.15 1030.15,1846.33 1030.9,1848.82 1031.4,1851.32 1031.9,1853.72 1032.39,1856.21 1032.89,1858.77 1035.89,1860.62 1036.14,1863.12 1036.39,1865.55 1036.64,1867.63 1036.89,1869.67 1037.14,1872.09 1037.39,1874.12 1037.64,1876.66 1037.89,1878.88 1038.64,1880.8 1039.39,1882.95 1040.14,1884.8 1040.89,1887.04 1041.13,1889.06 1041.38,1891.48 1041.63,1893.46 1041.88,1895.87 1042.13,1897.97 1042.38,1900.47 1042.63,1902.62 1042.88,1904.72 1043.88,1906.9 1044.88,1908.99 1045.88,1910.82 1048.88,1912.95 1049.88,1914.65 1050.87,1916.66 1051.87,1918.92 1054.87,1920.66 1056.87,1921.81 1058.86,1922.84 1059.86,1924.7 1060.86,1926.9 1061.86,1928.66 1062.86,1930.69 1064.36,1932.12 1065.86,1933.91 1067.36,1935.38 1068.85,1936.88 1070.85,1938.23 1072.85,1939.4 1074.85,1940.65 1076.84,1942.07 1078.84,1943.5 1080.84,1944.78 1082.84,1945.67 1084.84,1946.7 1086.83,1947.65 1089.83,1947.14 1092.83,1946.83 1094.82,1947.66 1096.82,1948.82 1098.82,1949.78 1101.32,1950.53 1103.81,1951.25 1106.31,1952.08 1108.81,1952.74 1111.31,1953.28 1113.8,1953.74 1116.3,1954.34 1118.8,1954.72" stroke-width="2.9" stroke-dasharray="6.5 4"/>
<polyline points="1074.85,1954.8 1076.84,1953.99 1078.84,1953.19 1080.84,1952.52 1082.84,1951.95 1084.44,1950.17 1086.03,1948.76 1087.63,1947.74 1089.23,1945.93 1090.83,1944.92 1092.03,1942.48 1093.23,1940.53 1094.42,1938.73 1095.62,1936.96 1096.82,1934.55 1097.42,1932.07 1098.02,1929.95 1098.62,1927.83 1099.22,1925.09 1099.82,1923.18 1100.15,1920.41 1100.48,1917.73 1100.82,1916.15 1101.15,1913.73 1101.48,1911.38 1101.82,1908.6 1102.07,1906.41 1102.32,1904.3 1102.57,1901.79 1102.82,1900.17 1103.07,1897.24 1103.31,1895.46 1103.56,1892.93 1103.81,1890.75 1104.06,1888.76 1104.31,1886.09 1104.56,1884.44 1104.81,1882.22 1105.06,1879.27 1105.31,1877.11 1105.56,1874.95 1105.81,1873.18 1106.03,1870.46 1106.26,1868.4 1106.48,1866.1 1106.7,1863.57 1106.92,1862.21 1107.14,1859.9 1107.37,1857.67 1107.59,1855.48 1107.81,1853.32 1107.97,1850.63 1108.12,1848.78 1108.28,1845.65 1108.43,1844.58 1108.59,1842.08 1108.74,1840.01 1108.9,1837.18 1109.05,1835 1109.21,1832.53 1109.41,1830.28 1109.61,1828.87 1109.81,1825.78 1110.01,1823.43 1110.21,1821.87 1110.41,1819.96 1110.61,1817.47 1110.81,1814.76 1112.4,1813.15 1112.64,1815.6 1112.87,1817.2 1113.1,1820.02 1113.34,1821.78 1113.57,1824.42 1113.8,1826.65 1114.55,1829.36 1115.3,1831.8 1116.05,1834.65 1116.8,1836.71 1117.02,1839.02 1117.24,1841.15 1117.47,1843.05 1117.69,1846.32 1117.91,1847.69 1118.13,1849.87 1118.35,1852.55 1118.58,1854.25 1118.8,1857.23 1119.23,1858.77 1119.65,1861.29 1120.08,1863.99 1120.51,1866.48 1120.94,1868.2 1121.37,1870.81 1121.79,1872.83 1122.19,1875.54 1122.59,1877.35 1122.99,1879.7 1123.39,1882.74 1123.79,1885.18 1124.29,1887 1124.79,1889.91 1125.29,1891.49 1125.79,1894.18 1126.29,1896.93 1126.79,1899.2 1127.22,1900.8 1127.64,1903.34 1128.07,1905.94 1128.5,1907.78 1128.93,1910.25 1129.36,1912.32 1129.79,1914.99 1130.53,1917.29 1131.28,1920.11 1132.03,1922.11 1132.78,1924.93 1133.53,1926.71 1134.28,1928.77 1135.03,1930.92 1135.78,1932.84 1136.53,1935.06 1137.28,1937.7 1138.03,1940.42 1138.77,1942.53 1140.11,1944.63 1141.44,1946.9 1142.77,1948.98 1144.77,1950.79 1146.77,1952.9 1149.16,1953.31 1151.56,1953.46 1153.96,1954.11 1156.36,1954.25 1158.75,1954.77"/>
<polygon points="1018.91,1954.8 1038.89,1954.8 1047.88,1951.75 1052.87,1946.76 1056.87,1945.76 1060.86,1936.77 1063.86,1922.79 1066.86,1902.81 1068.85,1882.83 1070.85,1864.85 1073.25,1844.87 1075.85,1826.89 1077.84,1816.91 1081.24,1812.91 1084.44,1815.91 1085.83,1832.89 1087.83,1850.87 1090.83,1864.85 1092.83,1878.84 1094.82,1892.82 1097.82,1908.8 1100.82,1916.79 1103.81,1926.78 1107.81,1932.77 1111.81,1938.77 1115.8,1944.76 1120.8,1949.76 1126.79,1954.8 1138.77,1954.8" fill="rgb(130,130,130)" fill-opacity="0.82" stroke="none"/>
<polyline points="1018.91,1954.8 1038.89,1954.8 1047.88,1951.75 1052.87,1946.76 1056.87,1945.76 1060.86,1936.77 1063.86,1922.79 1066.86,1902.81 1068.85,1882.83 1070.85,1864.85 1073.25,1844.87 1075.85,1826.89 1077.84,1816.91 1081.24,1812.91 1084.44,1815.91 1085.83,1832.89 1087.83,1850.87 1090.83,1864.85 1092.83,1878.84 1094.82,1892.82 1097.82,1908.8 1100.82,1916.79 1103.81,1926.78 1107.81,1932.77 1111.81,1938.77 1115.8,1944.76 1120.8,1949.76 1126.79,1954.8 1138.77,1954.8"/>
</g>
<text transform="translate(973.7 1963.7) scale(1 1.03)" font-size="17.5" text-anchor="end">0</text>
<text transform="translate(973.7 1915.52) scale(1 1.03)" font-size="17.5" text-anchor="end">25</text>
<text transform="translate(973.7 1867.35) scale(1 1.03)" font-size="17.5" text-anchor="end">50</text>
<text transform="translate(973.7 1819.17) scale(1 1.03)" font-size="17.5" text-anchor="end">75</text>
<text transform="translate(973.7 1771) scale(1 1.03)" font-size="17.5" text-anchor="end">100</text>
<text transform="translate(976.7 1988.8) scale(1 1.03)" font-size="17.5">10<tspan font-size="12.3" dy="-4.6">0</tspan></text>
<text transform="translate(1044.37 1988.8) scale(1 1.03)" font-size="17.5">10<tspan font-size="12.3" dy="-4.6">1</tspan></text>
<text transform="translate(1112.04 1988.8) scale(1 1.03)" font-size="17.5">10<tspan font-size="12.3" dy="-4.6">2</tspan></text>
<text transform="translate(1179.71 1988.8) scale(1 1.03)" font-size="17.5">10<tspan font-size="12.3" dy="-4.6">3</tspan></text>
<text transform="translate(1247.38 1988.8) scale(1 1.03)" font-size="17.5">10<tspan font-size="12.3" dy="-4.6">4</tspan></text>
</g>
<text transform="translate(360.06 1810) scale(1 1.03)" font-size="36.6">21</text>
<text transform="translate(707.16 1803.8) scale(1 1.03)" font-size="36.6">26</text>
<text transform="translate(362.76 2096.9) scale(1 1.03)" font-size="36.6">41</text>
<text transform="translate(690.86 2098.8) scale(1 1.03)" font-size="36.6">201</text>
<text transform="translate(1045.36 1808.7) scale(1 1.03)" font-size="36.6">28</text>
<text transform="translate(1107.21 1808.7) scale(1 1.03)" font-size="36.6">80</text>
<text x="996.8" y="1741.4" font-size="35.5" textLength="256.16" lengthAdjust="spacing">6h ± Marimastat</text>
<text transform="translate(927.6 1980.86) rotate(-90) scale(1 1.0)" font-size="35.5" textLength="241.74" lengthAdjust="spacing">number of cells</text>
<text x="1020.5" y="2027.5" font-size="35.5" textLength="202.88" lengthAdjust="spacing">fluorescence</text>
<text x="1014.73" y="2070.7" font-size="35.5" textLength="214.28" lengthAdjust="spacing">intensity (log)</text>
<rect x="927.5" y="2098.7" width="33.9" height="33.9" fill="none" stroke="#000" stroke-width="3" stroke-dasharray="12 9"/>
<rect x="927.5" y="2145.5" width="33.9" height="33.9" fill="#fff" stroke="#000" stroke-width="3"/>
<rect x="927.5" y="2192.9" width="33.9" height="33.9" fill="#808080" stroke="#000" stroke-width="3"/>
<text x="985.81" y="2127.8" font-size="35.5" textLength="312.77" lengthAdjust="spacing">secondary Ab alone</text>
<text transform="translate(985.09 2174.9) scale(1 1.03)" font-size="35.5" textLength="188.41" lengthAdjust="spacing">L23-E3/49K</text>
<text transform="translate(986.59 2222.8) scale(1 1.015)" font-size="35.5" textLength="384.97" lengthAdjust="spacing">L23-E3/49K+Marimastat</text>
<text transform="translate(1128.81 65.2) scale(1 1.015)" font-size="35.5" textLength="119.59" lengthAdjust="spacing">sec49K</text>
<text transform="translate(1467.36 65.2) scale(1 1.03)" font-size="35.5" textLength="134.97" lengthAdjust="spacing">UL11-Fc</text>
<g id="D1">
<clipPath id="c10"><rect x="1051.45" y="89.95" width="274.15" height="196.95"/></clipPath>
<path d="M1040 284.7H1052.9M1047.1 272.61H1052.9M1047.1 260.51H1052.9M1047.1 248.42H1052.9M1040 236.32H1052.9M1047.1 224.23H1052.9M1047.1 212.14H1052.9M1047.1 200.04H1052.9M1040 187.95H1052.9M1047.1 175.86H1052.9M1047.1 163.76H1052.9M1047.1 151.67H1052.9M1040 139.57H1052.9M1047.1 127.48H1052.9M1047.1 115.39H1052.9M1047.1 103.29H1052.9M1040 90.6H1052.9" stroke="#000" stroke-width="2.2" fill="none"/>
<rect x="1053.45" y="91.95" width="270.15" height="192.75" fill="none" stroke="#000" stroke-width="4.7"/>
<path d="M1052.9 284.7V296.5M1073.27 284.7V289.8M1085.19 284.7V289.8M1093.64 284.7V289.8M1100.2 284.7V289.8" stroke="#000" stroke-width="2.25" fill="none"/>
<path d="M1105.56 284.7V289.8M1110.09 284.7V289.8M1114.01 284.7V289.8M1117.47 284.7V289.8M1120.57 284.7V296.5M1140.94 284.7V289.8M1152.86 284.7V289.8M1161.31 284.7V289.8M1167.87 284.7V289.8M1173.23 284.7V289.8M1177.76 284.7V289.8M1181.68 284.7V289.8M1185.14 284.7V289.8M1188.24 284.7V296.5M1208.61 284.7V289.8M1220.53 284.7V289.8M1228.98 284.7V289.8M1235.54 284.7V289.8M1240.9 284.7V289.8M1245.43 284.7V289.8M1249.35 284.7V289.8M1252.81 284.7V289.8M1255.91 284.7V296.5M1276.28 284.7V289.8M1288.2 284.7V289.8M1296.65 284.7V289.8M1303.21 284.7V289.8M1308.57 284.7V289.8M1313.1 284.7V289.8M1317.02 284.7V289.8M1320.48 284.7V289.8M1323.58 284.7V296.5" stroke="#062b70" stroke-width="2.25" fill="none"/>
<g clip-path="url(#c10)" fill="none" stroke="#000" stroke-width="3.1" stroke-linejoin="round" stroke-linecap="butt">
<polyline points="1054.84,252.79 1055.44,272.76"/>
<polyline points="1055.94,272.76 1057.27,270.67 1058.6,268.64 1059.94,266.7 1060.93,264.7 1061.93,262.77 1062.93,260.72 1063.93,258.91 1064.93,256.78 1066.6,254.9 1068.26,252.75 1069.92,250.72 1070.42,248.6 1070.92,246.1 1071.42,243.96 1071.92,241.57 1072.42,239.1 1072.92,236.87 1074.42,234.87 1075.92,232.88 1076.92,230.95 1077.92,228.92 1078.91,226.89 1079.25,224.55 1079.58,222.42 1079.91,220.02 1080.25,218.1 1080.58,215.93 1080.91,213.27 1081.25,211.49 1081.58,208.84 1081.91,206.92 1082.34,204.48 1082.77,202.13 1083.2,199.89 1083.62,197.5 1084.05,195.22 1084.48,192.99 1084.91,191.02 1085.31,188.42 1085.71,185.83 1086.11,183.46 1086.51,181.14 1086.91,179.01 1087.65,181.13 1088.4,183.01 1089.15,184.66 1089.9,186.83 1090.07,184.92 1090.24,182.37 1090.4,180.38 1090.57,178.15 1090.73,176.08 1090.9,173.66 1091.07,171.56 1091.23,169.39 1091.4,167.13 1091.57,165.26 1091.73,163.33 1091.9,160.9 1092.9,163.14 1093.9,164.7 1094.9,166.86 1095.12,164.87 1095.34,162.6 1095.56,159.98 1095.78,158.15 1096.01,155.78 1096.23,153.34 1096.45,151.43 1096.67,149.03 1096.89,147.05 1097.89,144.57 1098.89,142.32 1099.89,140.17 1100.89,138.02 1102.39,140.45 1103.89,143.13 1104.89,145.2 1105.88,146.67 1106.88,148.72 1107.13,151.22 1107.38,153.17 1107.63,155.62 1107.88,158.03 1108.13,159.99 1108.38,162.51 1108.63,164.58 1108.88,167.12 1111.88,168.71 1112.13,170.86 1112.38,173.15 1112.63,175.75 1112.88,177.68 1113.13,180.38 1113.38,182.14 1113.63,184.79 1113.88,186.62 1114.1,189.07 1114.32,191.18 1114.54,193.59 1114.76,195.89 1114.98,198.15 1115.21,200.4 1115.43,202.29 1115.65,204.57 1115.87,206.98 1116.21,208.93 1116.54,211.1 1116.87,213.46 1117.2,215.84 1117.54,218.1 1117.87,219.93 1118.2,222.45 1118.54,224.43 1118.87,226.75 1119.3,229.18 1119.73,231.47 1120.15,233.84 1120.58,235.97 1121.01,238.26 1121.44,240.38 1121.87,242.97 1122.29,245.15 1122.72,247.31 1123.15,249.66 1123.58,252.1 1124.01,254.31 1124.43,256.54 1124.86,258.93 1126.19,260.68 1127.53,262.87 1128.86,264.67 1131.36,263.75 1133.85,262.65 1136.35,261.13 1138.85,259.82 1142.84,258.9 1144.51,256.62 1146.17,254.81 1147.84,252.73 1149.34,250.91 1150.83,248.65 1153.83,248.65 1155.16,246.65 1156.49,244.86 1157.83,242.71 1159.49,241.15 1161.16,239.36 1162.82,237.97 1163.82,239.98 1164.82,242.19 1165.82,244.69 1166.82,246.63 1167.56,249.37 1168.31,251.62 1169.06,254.25 1169.81,256.8 1170.41,259.12 1171.01,261.62 1171.61,263.96 1172.21,266.42 1172.81,268.86 1174.14,270.44 1175.47,272.15 1176.8,273.89 1178.3,275.47 1179.8,277.18 1181.3,279.1 1182.8,280.78 1186.79,281.66" stroke-width="2.9" stroke-dasharray="9.5 5"/>
<polyline points="1174.81,283.4 1177.2,283.58 1179.6,283.51 1182,283.33 1184.4,283.51 1186.79,283.51 1188.79,282.93 1190.79,282.21 1192.79,281.34 1194.78,280.86 1196.78,279.73 1198.78,278.55 1200.78,277.79 1204.77,276.54 1206.1,275.22 1207.44,273.37 1208.77,271.46 1209.77,269.29 1210.77,267.31 1211.76,264.86 1212.76,263.11 1213.36,260.11 1213.96,258.14 1214.56,255.46 1215.16,253.2 1215.76,251.02 1216.05,248.58 1216.33,246.08 1216.62,243.85 1216.9,241.43 1217.19,239.43 1217.47,236.82 1217.76,235.11 1217.92,232.34 1218.09,230.64 1218.26,227.85 1218.42,226.28 1218.59,224.26 1218.76,221.68 1218.92,219.64 1219.09,217.7 1219.26,214.95 1219.42,213.33 1219.59,210.94 1219.76,208.97 1219.9,206.28 1220.04,204.09 1220.18,202.91 1220.33,200.76 1220.47,198.3 1220.61,195.86 1220.75,194.2 1220.9,192.04 1221.04,189.08 1221.18,187.09 1221.33,185.2 1221.47,182.57 1221.61,180.88 1221.75,178.52 1221.9,176.89 1222.04,174.53 1222.18,172.42 1222.32,170.76 1222.47,167.58 1222.61,166.35 1222.75,164.01 1222.9,161.99 1223.04,159.83 1223.18,157.69 1223.32,155.13 1223.47,153.08 1223.61,150.73 1223.75,149.51 1224.03,146.27 1224.31,143.47 1224.59,141.34 1224.87,138.68 1225.15,137.39 1225.42,138.91 1225.68,140.97 1225.95,144.26 1226.22,145.6 1226.48,147.94 1226.75,151.34 1227,152.64 1227.25,155.37 1227.5,157.84 1227.75,159.81 1228,161.57 1228.25,164.75 1228.5,167.22 1228.75,168.71 1229.03,171.6 1229.32,172.95 1229.6,175.27 1229.89,177.99 1230.17,180.08 1230.46,182.98 1230.74,184.99 1230.99,187.05 1231.24,189.29 1231.49,192.16 1231.74,194.2 1231.99,196.13 1232.24,198.77 1232.49,200.61 1232.74,203.25 1233.34,204.97 1233.94,208 1234.54,209.56 1235.14,212.91 1235.74,214.85 1236.24,217.01 1236.74,219.15 1237.24,221.46 1237.74,223.82 1238.23,226.07 1238.73,228.73 1239.11,230.77 1239.48,233.41 1239.86,235.66 1240.23,237.41 1240.61,239.98 1240.98,241.95 1241.36,244.64 1241.73,247.13 1242.16,249.16 1242.59,251.36 1243.02,253.4 1243.44,255.82 1243.87,258.03 1244.3,260.2 1244.73,262.64 1245.48,265.3 1246.23,267.57 1246.98,269.97 1247.72,272.82 1248.47,274.76 1249.22,276.84 1249.97,278.59 1250.72,280.55 1252.72,283.57"/>
</g>
<text transform="translate(1037.3 292.3) scale(1 1.03)" font-size="17.5" text-anchor="end">0</text>
<text transform="translate(1037.3 243.92) scale(1 1.03)" font-size="17.5" text-anchor="end">25</text>
<text transform="translate(1037.3 195.55) scale(1 1.03)" font-size="17.5" text-anchor="end">50</text>
<text transform="translate(1037.3 147.17) scale(1 1.03)" font-size="17.5" text-anchor="end">75</text>
<text transform="translate(1037.3 98.8) scale(1 1.03)" font-size="17.5" text-anchor="end">100</text>
<text transform="translate(1040.3 317.4) scale(1 1.03)" font-size="17.5">10<tspan font-size="12.3" dy="-4.6">0</tspan></text>
<text transform="translate(1107.97 317.4) scale(1 1.03)" font-size="17.5">10<tspan font-size="12.3" dy="-4.6">1</tspan></text>
<text transform="translate(1175.64 317.4) scale(1 1.03)" font-size="17.5">10<tspan font-size="12.3" dy="-4.6">2</tspan></text>
<text transform="translate(1243.31 317.4) scale(1 1.03)" font-size="17.5">10<tspan font-size="12.3" dy="-4.6">3</tspan></text>
<text transform="translate(1310.98 317.4) scale(1 1.03)" font-size="17.5">10<tspan font-size="12.3" dy="-4.6">4</tspan></text>
</g>
<g id="D2">
<clipPath id="c11"><rect x="1397.05" y="89.95" width="274.15" height="196.95"/></clipPath>
<path d="M1385.6 284.7H1398.5M1392.7 272.61H1398.5M1392.7 260.51H1398.5M1392.7 248.42H1398.5M1385.6 236.32H1398.5M1392.7 224.23H1398.5M1392.7 212.14H1398.5M1392.7 200.04H1398.5M1385.6 187.95H1398.5M1392.7 175.86H1398.5M1392.7 163.76H1398.5M1392.7 151.67H1398.5M1385.6 139.57H1398.5M1392.7 127.48H1398.5M1392.7 115.39H1398.5M1392.7 103.29H1398.5M1385.6 90.6H1398.5" stroke="#000" stroke-width="2.2" fill="none"/>
<rect x="1399.05" y="91.95" width="270.15" height="192.75" fill="none" stroke="#000" stroke-width="4.7"/>
<path d="M1398.5 284.7V296.5M1418.87 284.7V289.8M1430.79 284.7V289.8M1439.24 284.7V289.8M1445.8 284.7V289.8" stroke="#000" stroke-width="2.25" fill="none"/>
<path d="M1451.16 284.7V289.8M1455.69 284.7V289.8M1459.61 284.7V289.8M1463.07 284.7V289.8M1466.17 284.7V296.5M1486.54 284.7V289.8M1498.46 284.7V289.8M1506.91 284.7V289.8M1513.47 284.7V289.8M1518.83 284.7V289.8M1523.36 284.7V289.8M1527.28 284.7V289.8M1530.74 284.7V289.8M1533.84 284.7V296.5M1554.21 284.7V289.8M1566.13 284.7V289.8M1574.58 284.7V289.8M1581.14 284.7V289.8M1586.5 284.7V289.8M1591.03 284.7V289.8M1594.95 284.7V289.8M1598.41 284.7V289.8M1601.51 284.7V296.5M1621.88 284.7V289.8M1633.8 284.7V289.8M1642.25 284.7V289.8M1648.81 284.7V289.8M1654.17 284.7V289.8M1658.7 284.7V289.8M1662.62 284.7V289.8M1666.08 284.7V289.8M1669.18 284.7V296.5" stroke="#062b70" stroke-width="2.25" fill="none"/>
<g clip-path="url(#c11)" fill="none" stroke="#000" stroke-width="3.1" stroke-linejoin="round" stroke-linecap="butt">
<polyline points="1400.44,142.91 1400.84,250.79"/>
<polyline points="1401.34,250.79 1402.06,248.67 1402.78,246.65 1403.5,244.86 1404.22,242.79 1404.94,240.8 1406.27,238.99 1407.6,236.67 1408.93,234.94 1409.93,232.66 1410.93,230.76 1411.93,228.85 1412.93,226.96 1413.93,224.83 1414.93,222.9 1415.92,220.86 1416.32,218.24 1416.72,216.2 1417.12,213.66 1417.52,211.18 1417.92,209.04 1420.92,206.99 1421.52,204.52 1422.12,202.07 1422.72,199.72 1423.32,197.28 1423.92,194.67 1425.91,194.02 1427.91,192.74 1428.66,190.75 1429.41,188.23 1430.16,186.04 1430.91,183.64 1431.91,186.14 1432.91,188.29 1433.9,190.98 1435.24,189.31 1436.57,187.48 1437.9,185.75 1440.4,184.33 1442.89,182.75 1443.23,185.48 1443.56,188.14 1443.89,190.79 1445.22,192.81 1446.56,194.85 1447.89,197.06 1448.89,198.61 1449.89,200.67 1450.89,202.78 1451.88,204.66 1452.68,206.96 1453.48,208.89 1454.28,210.76 1455.08,212.77 1455.88,214.91 1456.68,216.93 1457.48,218.7 1458.28,221.02 1459.08,222.76 1459.88,224.9 1460.67,226.78 1461.47,228.84 1462.27,230.74 1463.07,232.95 1463.87,234.93 1465.87,236.84 1467.87,238.83 1469.2,240.71 1470.53,242.81 1471.86,244.97 1473.36,242.66 1474.86,240.62 1475.66,242.91 1476.46,244.73 1477.26,246.93 1478.05,248.93 1478.85,250.63 1480.85,252.68 1482.85,254.78 1484.35,256.22 1485.85,257.91 1487.34,259.29 1488.84,260.86 1491.84,260.73 1494.84,260.82 1497.33,260.73 1499.83,260.7 1500.83,262.76 1501.83,264.66 1502.83,266.82 1503.83,268.67 1505.57,270.25 1507.32,271.79 1509.07,273.25 1510.82,274.76 1512.82,276.46 1514.81,278.2 1516.81,279.81 1518.81,280.63 1520.81,281.57 1522.8,282.5 1524.8,283.47 1527.09,282.97 1529.37,282.64 1531.65,282.31 1533.93,281.96 1536.22,281.5 1538.5,281.08 1540.78,280.79 1543.18,280.94 1545.58,281.14 1547.98,281.4 1550.37,281.57 1552.77,281.71 1555.1,281.28 1557.43,280.77 1559.76,280.32 1562.09,279.83 1564.42,279.31 1566.75,278.73 1569.15,279.07 1571.55,279.24 1573.95,279.43 1576.34,279.65 1578.74,279.75 1581.24,279.07 1583.74,278.24 1586.23,277.46 1588.73,276.72 1591.13,276.21 1593.52,275.53 1595.92,274.97 1598.32,274.33 1600.72,273.8 1602.71,272.48 1604.71,271.16 1606.71,270.06 1608.71,268.7 1610.71,267.71 1612.7,266.68 1614.7,265.77 1616.7,264.81 1618.5,263.34 1620.29,261.95 1622.09,260.64 1623.89,259.26 1625.69,257.86 1628.02,258.4 1630.35,259.19 1632.68,259.71 1635.34,260.48 1638.01,260.96 1640.67,261.64 1642.67,263.09 1644.67,264.27 1646.66,265.54 1648.66,266.86 1650.66,268.17 1652.66,269.78 1654.66,271.39 1656.65,272.78 1658.65,273.52 1660.65,274.07 1662.65,274.85 1663.15,276.89 1663.65,279.14 1664.14,281.27 1664.64,283.46" stroke-width="2.9" stroke-dasharray="9.5 5"/>
<polyline points="1528.8,283.4 1531.29,282.59 1533.79,282.16 1536.29,281.64 1538.79,280.76 1540.78,279.96 1542.78,279.47 1544.78,278.54 1546.11,276.9 1547.44,274.53 1548.77,272.8 1550.77,270.94 1552.77,269.04 1553.44,266.41 1554.1,263.93 1554.77,261.6 1555.43,259.56 1556.1,257.07 1556.77,254.87 1557.27,252.53 1557.76,249.83 1558.26,247.48 1558.76,245.4 1559.26,243.54 1559.76,240.74 1560.01,238.74 1560.26,236.11 1560.51,234.37 1560.76,232.04 1561.01,229.51 1561.26,227.4 1561.51,225.22 1561.76,222.93 1561.98,220.28 1562.2,218.11 1562.43,216.61 1562.65,213.52 1562.87,212.17 1563.09,208.98 1563.31,207.54 1563.54,204.55 1563.76,202.82 1564.01,200.35 1564.26,198.64 1564.51,195.96 1564.76,193.54 1565.01,192.16 1565.26,189.33 1565.51,187.29 1565.76,185.33 1566.42,183.17 1567.09,181.21 1567.75,178.75 1567.92,176.12 1568.09,174.95 1568.25,172.42 1568.42,170.01 1568.59,168.11 1568.75,165.65 1568.92,163.22 1569.09,161.71 1569.25,159.32 1569.42,157 1569.58,155.36 1569.75,152.48 1570,150.48 1570.25,148.04 1570.5,145.89 1570.75,143.92 1571,141.76 1571.25,139.51 1571.5,136.85 1571.75,135.51 1572.88,132.16 1574.01,130.57 1575.15,128.44 1576.01,130.43 1576.88,133.05 1577.74,135.25 1578.74,136.91 1579.74,139.33 1579.99,141.69 1580.24,142.82 1580.49,146.08 1580.74,148.25 1580.99,150.67 1581.24,151.86 1581.49,154.33 1581.74,157.04 1582.14,159.44 1582.54,161.77 1582.94,163.71 1583.34,166.48 1583.74,169.24 1583.99,171.01 1584.23,173.66 1584.48,175.85 1584.73,178.23 1584.98,180.14 1585.23,181.89 1585.48,184.4 1585.73,187.21 1586.23,189.4 1586.73,191.69 1587.23,194.21 1587.73,196.15 1588.23,198.49 1588.73,200.46 1589.13,202.86 1589.53,206.15 1589.93,207.68 1590.33,210.32 1590.73,213.04 1591.13,215.07 1591.53,217.32 1591.93,219.67 1592.33,221.99 1592.73,225.12 1593.22,227.17 1593.72,229.07 1594.22,231.44 1594.72,233.97 1595.22,236.82 1595.72,239.03 1596.47,240.62 1597.22,243.15 1597.97,244.56 1598.72,246.85 1599.47,248.48 1600.22,250.48 1600.97,252.55 1601.72,254.82 1602.71,256.88 1603.71,258.64 1604.71,260.73 1606.04,262.88 1607.38,264.68 1608.71,266.47 1610.71,267.6 1612.7,268.85 1613.7,266.98 1614.7,264.5 1615.7,262.77 1616.7,264.65 1617.7,266.69 1618.7,268.86 1620.69,267.06 1622.69,264.49 1625.69,267.01 1627.19,264.62 1628.68,263.09 1630.68,263.78 1632.68,264.54 1634.68,266.47 1636.68,268.09 1638.67,266.61 1640.67,266.05 1642,267.56 1643.34,269.18 1644.67,270.87 1648.66,270.53 1650.66,272.64 1652.66,274.67 1654.66,273.51 1656.65,272.7 1657.99,274.58 1659.32,276.15 1660.65,277.68 1661.98,279.55 1663.31,281.54 1664.64,283.29"/>
</g>
<text transform="translate(1382.9 292.3) scale(1 1.03)" font-size="17.5" text-anchor="end">0</text>
<text transform="translate(1382.9 243.92) scale(1 1.03)" font-size="17.5" text-anchor="end">25</text>
<text transform="translate(1382.9 195.55) scale(1 1.03)" font-size="17.5" text-anchor="end">50</text>
<text transform="translate(1382.9 147.17) scale(1 1.03)" font-size="17.5" text-anchor="end">75</text>
<text transform="translate(1382.9 98.8) scale(1 1.03)" font-size="17.5" text-anchor="end">100</text>
<text transform="translate(1385.9 317.4) scale(1 1.03)" font-size="17.5">10<tspan font-size="12.3" dy="-4.6">0</tspan></text>
<text transform="translate(1453.57 317.4) scale(1 1.03)" font-size="17.5">10<tspan font-size="12.3" dy="-4.6">1</tspan></text>
<text transform="translate(1521.24 317.4) scale(1 1.03)" font-size="17.5">10<tspan font-size="12.3" dy="-4.6">2</tspan></text>
<text transform="translate(1588.91 317.4) scale(1 1.03)" font-size="17.5">10<tspan font-size="12.3" dy="-4.6">3</tspan></text>
<text transform="translate(1656.58 317.4) scale(1 1.03)" font-size="17.5">10<tspan font-size="12.3" dy="-4.6">4</tspan></text>
</g>
<g id="D3">
<clipPath id="c12"><rect x="1051.45" y="337.15" width="274.15" height="196.75"/></clipPath>
<path d="M1040 531.7H1052.9M1047.1 519.62H1052.9M1047.1 507.54H1052.9M1047.1 495.46H1052.9M1040 483.38H1052.9M1047.1 471.29H1052.9M1047.1 459.21H1052.9M1047.1 447.13H1052.9M1040 435.05H1052.9M1047.1 422.97H1052.9M1047.1 410.89H1052.9M1047.1 398.81H1052.9M1040 386.73H1052.9M1047.1 374.64H1052.9M1047.1 362.56H1052.9M1047.1 350.48H1052.9M1040 337.8H1052.9" stroke="#000" stroke-width="2.2" fill="none"/>
<rect x="1053.45" y="339.15" width="270.15" height="192.55" fill="none" stroke="#000" stroke-width="4.7"/>
<path d="M1052.9 531.7V543.5M1073.27 531.7V536.8M1085.19 531.7V536.8M1093.64 531.7V536.8M1100.2 531.7V536.8" stroke="#000" stroke-width="2.25" fill="none"/>
<path d="M1105.56 531.7V536.8M1110.09 531.7V536.8M1114.01 531.7V536.8M1117.47 531.7V536.8M1120.57 531.7V543.5M1140.94 531.7V536.8M1152.86 531.7V536.8M1161.31 531.7V536.8M1167.87 531.7V536.8M1173.23 531.7V536.8M1177.76 531.7V536.8M1181.68 531.7V536.8M1185.14 531.7V536.8M1188.24 531.7V543.5M1208.61 531.7V536.8M1220.53 531.7V536.8M1228.98 531.7V536.8M1235.54 531.7V536.8M1240.9 531.7V536.8M1245.43 531.7V536.8M1249.35 531.7V536.8M1252.81 531.7V536.8M1255.91 531.7V543.5M1276.28 531.7V536.8M1288.2 531.7V536.8M1296.65 531.7V536.8M1303.21 531.7V536.8M1308.57 531.7V536.8M1313.1 531.7V536.8M1317.02 531.7V536.8M1320.48 531.7V536.8M1323.58 531.7V543.5" stroke="#062b70" stroke-width="2.25" fill="none"/>
<g clip-path="url(#c12)" fill="none" stroke="#000" stroke-width="3.1" stroke-linejoin="round" stroke-linecap="butt">
<polyline points="1058.54,469.82 1059.27,467.37 1060,465.28 1060.73,462.85 1061.47,460.66 1062.2,458.01 1062.93,455.71 1063.6,453.53 1064.26,451.27 1064.93,448.9 1065.6,446.72 1066.26,444.4 1066.93,442.04 1067.93,439.61 1068.93,437.94 1069.92,435.88 1070.92,433.92 1071.92,431.85 1072.72,430.01 1073.52,427.61 1074.32,425.74 1075.12,423.97 1075.92,422.03 1077.92,422.75 1079.91,424.06 1081.25,425.93 1082.58,427.97 1083.91,429.74 1086.91,429.91 1087.48,432.32 1088.05,434.39 1088.62,436.71 1089.19,439.22 1089.76,441.52 1090.33,443.44 1090.9,445.79 1091.34,448.3 1091.79,450.38 1092.23,452.54 1092.68,454.67 1093.12,456.75 1093.56,458.99 1094.01,461.21 1094.45,463.65 1094.9,465.84 1095.5,468.08 1096.1,470.65 1096.69,472.94 1097.29,475.21 1097.89,477.67 1098.49,480.35 1099.09,482.8 1099.69,485.14 1100.29,487.54 1100.89,489.89 1101.46,492.23 1102.03,494.24 1102.6,496.49 1103.17,498.95 1103.74,501.28 1104.31,503.66 1104.89,505.94 1106.38,507.72 1107.88,509.78 1108.88,511.86 1109.88,513.69 1110.88,515.82 1112.88,517.76 1114.87,519.88 1117.37,521.17 1119.87,522.71 1121.87,521.39 1123.86,519.74 1126.19,520.21 1128.53,520.92 1130.86,521.38 1133.85,521.86 1136.85,522.33 1138.85,521.54 1140.84,520.78 1143.84,521.54 1146.84,522.44 1149.5,522.67 1152.17,523.09 1154.83,523.43 1157.49,522.77 1160.16,522.29 1162.82,521.69 1165.32,521.6 1167.81,521.41 1169.81,522.94 1171.81,524.47 1174.31,525.4 1176.8,526.43 1179.47,526.95 1182.13,527.62 1184.8,528.24 1186.79,528.96 1188.79,529.6 1190.79,530.42 1192.99,530.36 1195.18,530.41 1197.38,530.35 1199.58,530.47 1201.78,530.47 1203.97,530.35 1206.17,530.45 1208.37,530.43 1210.57,530.42 1212.76,530.48 1214.94,530.39 1217.11,530.31 1219.28,530.44 1221.45,530.34 1223.62,530.41 1225.79,530.43 1227.96,530.4 1230.14,530.39 1232.31,530.4 1234.48,530.34 1236.65,530.36 1238.82,530.48 1240.99,530.46 1243.16,530.4 1245.34,530.4 1247.51,530.33 1249.68,530.48 1251.85,530.45 1254.02,530.45 1256.19,530.47 1258.36,530.35 1260.54,530.46 1262.71,530.4 1264.85,530.36 1267,530.39 1269.14,530.46 1271.29,530.48 1273.44,530.47 1275.58,530.47 1277.73,530.37 1279.87,530.45 1282.02,530.43 1284.16,530.34 1286.31,530.39 1288.46,530.33 1290.6,530.47 1292.75,530.46 1294.89,530.44 1297.04,530.4 1299.18,530.37 1301.33,530.41 1303.48,530.39 1305.62,530.47 1307.77,530.45 1309.91,530.36 1312.06,530.36 1314.2,530.34 1316.35,530.36 1318.5,530.32 1320.64,530.36" stroke-width="2.9" stroke-dasharray="9.5 5"/>
<polyline points="1057.74,339.97 1057.94,342.7 1057.95,344.09 1057.96,346.23 1057.97,348.36 1057.98,350.49 1057.99,352.62 1058,354.75 1058.01,356.88 1058.02,359.01 1058.03,361.14 1058.04,363.27 1058.05,365.4 1058.06,367.54 1058.07,369.67 1058.08,371.8 1058.09,373.93 1058.1,376.06 1058.11,378.19 1058.12,380.32 1058.13,382.45 1058.14,384.58 1058.15,386.71 1058.16,388.84 1058.17,390.98 1058.18,393.11 1058.19,395.24 1058.2,397.37 1058.21,399.5 1058.22,401.63 1058.23,403.76 1058.24,405.89 1058.25,408.02 1058.26,410.15 1058.27,412.28 1058.28,414.42 1058.29,416.55 1058.3,418.68 1058.31,420.81 1058.32,422.94 1058.33,425.07 1058.34,427.2 1058.35,429.33 1058.36,431.46 1058.37,433.59 1058.38,435.73 1058.39,437.86 1058.4,439.99 1058.41,442.12 1058.42,444.25 1058.43,446.38 1058.44,448.51 1058.45,450.64 1058.46,452.77 1058.47,454.9 1058.48,457.03 1058.49,459.17 1058.5,461.3 1058.51,463.43 1058.52,465.56 1058.53,467.69 1058.54,469.82 1059.17,467.78 1059.79,465.38 1060.42,462.7 1061.05,461.15 1061.68,458.91 1062.3,456.03 1062.93,453.55 1063.6,451.84 1064.26,449.15 1064.93,446.53 1065.6,444.59 1066.26,442.51 1066.93,439.75 1067.76,437.77 1068.59,435.64 1069.43,434.13 1070.26,431.39 1071.09,430.02 1071.92,427.3 1072.92,426.07 1073.92,422.82 1074.92,421.03 1075.92,418.8 1077.25,417.38 1078.58,415 1079.91,413.3 1081.91,412.52 1083.91,411.52 1084.41,414.17 1084.91,416.63 1085.41,419.08 1085.91,421.27 1086.41,424.08 1086.91,425.33 1087.57,427.82 1088.24,430.45 1088.9,433.17 1089.57,434.73 1090.24,438.01 1090.9,440.14 1091.47,441.87 1092.04,444.3 1092.61,446.98 1093.18,449.4 1093.75,451.71 1094.33,453.33 1094.9,455.67 1095.32,458.16 1095.75,460.2 1096.18,462.62 1096.61,464.59 1097.04,466.82 1097.46,469.97 1097.89,472.08 1098.39,473.86 1098.89,476.25 1099.39,478.57 1099.89,481.12 1100.39,483.49 1100.89,486.16 1101.56,487.8 1102.22,489.93 1102.89,491.51 1103.55,493.8 1104.22,496.01 1104.89,497.8 1105.63,500.44 1106.38,503.03 1107.13,505.65 1107.88,507.8 1108.88,510.38 1109.88,512.16 1110.88,514.77 1112.88,516.93 1114.87,518.46 1117.37,520.35 1119.87,521.77 1121.87,520.06 1123.86,518.68 1126.19,519.4 1128.53,520.27 1130.86,520.74 1133.85,521.28 1136.85,521.71 1138.85,520.96 1140.84,520.38 1143.84,520.74 1146.84,521.79 1149.5,522.06 1152.17,522.48 1154.83,522.98 1157.49,522.27 1160.16,522.09 1162.82,521.16 1165.32,521.08 1167.81,520.72 1169.81,522.07 1171.81,523.83 1174.31,524.52 1176.8,525.96 1179.47,526.24 1182.13,527.22 1184.8,527.71 1186.79,528.82 1188.79,529.6 1190.79,530.54 1192.99,530.51 1195.18,530.37 1197.38,530.29 1199.58,530.52 1201.78,530.51 1203.97,530.4 1206.17,530.41 1208.37,530.53 1210.57,530.31 1212.76,530.45 1214.94,530.54 1217.11,530.33 1219.28,530.41 1221.45,530.28 1223.62,530.59 1225.79,530.4 1227.96,530.54 1230.14,530.45 1232.31,530.49 1234.48,530.44 1236.65,530.5 1238.82,530.44 1240.99,530.39 1243.16,530.35 1245.34,530.29 1247.51,530.54 1249.68,530.2 1251.85,530.2 1254.02,530.48 1256.19,530.38 1258.36,530.26 1260.54,530.5 1262.71,530.44 1264.85,530.27 1267,530.3 1269.14,530.46 1271.29,530.43 1273.44,530.34 1275.58,530.52 1277.73,530.31 1279.87,530.56 1282.02,530.48 1284.16,530.34 1286.31,530.43 1288.46,530.53 1290.6,530.21 1292.75,530.25 1294.89,530.59 1297.04,530.57 1299.18,530.47 1301.33,530.38 1303.48,530.38 1305.62,530.42 1307.77,530.36 1309.91,530.41 1312.06,530.44 1314.2,530.44 1316.35,530.49 1318.5,530.21 1320.64,530.38"/>
</g>
<text transform="translate(1037.3 539.3) scale(1 1.03)" font-size="17.5" text-anchor="end">0</text>
<text transform="translate(1037.3 490.98) scale(1 1.03)" font-size="17.5" text-anchor="end">25</text>
<text transform="translate(1037.3 442.65) scale(1 1.03)" font-size="17.5" text-anchor="end">50</text>
<text transform="translate(1037.3 394.33) scale(1 1.03)" font-size="17.5" text-anchor="end">75</text>
<text transform="translate(1037.3 346) scale(1 1.03)" font-size="17.5" text-anchor="end">100</text>
<text transform="translate(1040.3 564.4) scale(1 1.03)" font-size="17.5">10<tspan font-size="12.3" dy="-4.6">0</tspan></text>
<text transform="translate(1107.97 564.4) scale(1 1.03)" font-size="17.5">10<tspan font-size="12.3" dy="-4.6">1</tspan></text>
<text transform="translate(1175.64 564.4) scale(1 1.03)" font-size="17.5">10<tspan font-size="12.3" dy="-4.6">2</tspan></text>
<text transform="translate(1243.31 564.4) scale(1 1.03)" font-size="17.5">10<tspan font-size="12.3" dy="-4.6">3</tspan></text>
<text transform="translate(1310.98 564.4) scale(1 1.03)" font-size="17.5">10<tspan font-size="12.3" dy="-4.6">4</tspan></text>
</g>
<g id="D4">
<clipPath id="c13"><rect x="1397.05" y="337.15" width="274.15" height="196.75"/></clipPath>
<path d="M1385.6 531.7H1398.5M1392.7 519.62H1398.5M1392.7 507.54H1398.5M1392.7 495.46H1398.5M1385.6 483.38H1398.5M1392.7 471.29H1398.5M1392.7 459.21H1398.5M1392.7 447.13H1398.5M1385.6 435.05H1398.5M1392.7 422.97H1398.5M1392.7 410.89H1398.5M1392.7 398.81H1398.5M1385.6 386.73H1398.5M1392.7 374.64H1398.5M1392.7 362.56H1398.5M1392.7 350.48H1398.5M1385.6 337.8H1398.5" stroke="#000" stroke-width="2.2" fill="none"/>
<rect x="1399.05" y="339.15" width="270.15" height="192.55" fill="none" stroke="#000" stroke-width="4.7"/>
<path d="M1398.5 531.7V543.5M1418.87 531.7V536.8M1430.79 531.7V536.8M1439.24 531.7V536.8M1445.8 531.7V536.8" stroke="#000" stroke-width="2.25" fill="none"/>
<path d="M1451.16 531.7V536.8M1455.69 531.7V536.8M1459.61 531.7V536.8M1463.07 531.7V536.8M1466.17 531.7V543.5M1486.54 531.7V536.8M1498.46 531.7V536.8M1506.91 531.7V536.8M1513.47 531.7V536.8M1518.83 531.7V536.8M1523.36 531.7V536.8M1527.28 531.7V536.8M1530.74 531.7V536.8M1533.84 531.7V543.5M1554.21 531.7V536.8M1566.13 531.7V536.8M1574.58 531.7V536.8M1581.14 531.7V536.8M1586.5 531.7V536.8M1591.03 531.7V536.8M1594.95 531.7V536.8M1598.41 531.7V536.8M1601.51 531.7V543.5M1621.88 531.7V536.8M1633.8 531.7V536.8M1642.25 531.7V536.8M1648.81 531.7V536.8M1654.17 531.7V536.8M1658.7 531.7V536.8M1662.62 531.7V536.8M1666.08 531.7V536.8M1669.18 531.7V543.5" stroke="#062b70" stroke-width="2.25" fill="none"/>
<g clip-path="url(#c13)" fill="none" stroke="#000" stroke-width="3.1" stroke-linejoin="round" stroke-linecap="butt">
<polyline points="1404.14,343.96 1404.15,346.09 1404.16,348.23 1404.17,350.36 1404.18,352.49 1404.19,354.63 1404.2,356.76 1404.21,358.89 1404.22,361.03 1404.23,363.16 1404.24,365.29 1404.25,367.43 1404.26,369.56 1404.27,371.69 1404.28,373.83 1404.29,375.96 1404.3,378.09 1404.31,380.23 1404.32,382.36 1404.33,384.49 1404.34,386.63 1404.35,388.76 1404.36,390.89 1404.37,393.03 1404.38,395.16 1404.39,397.29 1404.4,399.42 1404.41,401.56 1404.42,403.69 1404.43,405.82 1404.44,407.96 1404.45,410.09 1404.46,412.22 1404.47,414.36 1404.48,416.49 1404.49,418.62 1404.5,420.76 1404.51,422.89 1404.52,425.02 1404.53,427.16 1404.54,429.29 1404.55,431.42 1404.56,433.56 1404.57,435.69 1404.58,437.82 1404.59,439.96 1404.61,442.09 1404.62,444.22 1404.63,446.35 1404.64,448.49 1404.65,450.62 1404.66,452.75 1404.67,454.89 1404.68,457.02 1404.69,459.15 1404.7,461.29 1404.71,463.42 1404.72,465.55 1404.73,467.69 1404.74,469.82 1405.44,467.65 1406.14,465.7 1406.83,463.93 1407.53,461.73 1408.23,459.77 1408.93,457.79 1409.65,455.56 1410.36,453.47 1411.07,451.11 1411.79,448.73 1412.5,446.46 1413.21,443.95 1413.93,441.82 1414.53,439.58 1415.13,436.97 1415.72,434.49 1416.32,432.11 1416.92,429.81 1417.92,427.93 1418.92,425.64 1419.92,423.67 1420.67,421.91 1421.42,420.04 1422.17,417.93 1422.92,415.89 1423.92,413.98 1424.91,411.73 1425.91,409.8 1426.58,408.1 1427.25,405.76 1427.91,404.01 1429.41,406.54 1430.91,409.14 1432.24,410.67 1433.57,412.11 1434.9,413.88 1435.5,416.54 1436.1,418.95 1436.7,421.24 1437.3,423.58 1437.9,425.68 1438.65,427.64 1439.4,430.12 1440.15,431.71 1440.9,433.96 1441.65,436.16 1442.39,438.63 1443.14,441.6 1443.89,443.75 1444.27,446.27 1444.64,448.5 1445.02,450.4 1445.39,453.06 1445.77,455.03 1446.14,457.13 1446.52,459.44 1446.89,461.87 1447.22,464.23 1447.56,466.47 1447.89,468.95 1448.22,471.14 1448.55,473.62 1448.89,475.7 1449.32,477.94 1449.74,480.41 1450.17,482.74 1450.6,485.09 1451.03,487.37 1451.46,489.39 1451.88,491.93 1452.63,494.25 1453.38,496.89 1454.13,499.32 1454.88,501.73 1455.48,504.33 1456.08,506.44 1456.68,509 1457.28,511.24 1457.88,513.63 1458.88,516.03 1459.88,518.29 1460.87,520.47 1461.87,522.86 1464.37,524.35 1466.87,525.82 1469.2,525.23 1471.53,524.76 1473.86,524.11 1476.19,524.92 1478.52,525.87 1480.85,526.83 1483.52,526.47 1486.18,526.16 1488.84,525.72 1491.51,525.1 1494.17,524.35 1496.83,523.73 1498.83,522.65 1500.83,521.67 1502.83,520.88 1504.82,519.65 1508.82,520.22 1510.82,518.7 1512.82,517.3 1514.81,515.76 1516.81,516.38 1518.81,517.14 1520.81,517.72 1523.3,516.66 1525.8,515.78 1527.8,517.88 1529.8,519.86 1532.79,519.88 1535.79,519.69 1537.79,521.32 1539.79,523.07 1541.78,524.78 1544.11,524.43 1546.44,524.03 1548.77,523.75 1550.77,524.5 1552.77,525.46 1554.77,526.08 1556.77,527.57 1558.76,529.08 1560.76,530.35 1563.76,529.62 1566.75,528.78 1569.42,529.27 1572.08,529.83 1574.75,530.33" stroke-width="2.9" stroke-dasharray="9.5 5"/>
<polyline points="1403.74,342.96 1403.75,345.08 1403.76,347.19 1403.78,349.31 1403.79,351.42 1403.8,353.53 1403.82,355.65 1403.83,357.76 1403.84,359.88 1403.86,361.99 1403.87,364.11 1403.88,366.22 1403.9,368.33 1403.91,370.45 1403.92,372.56 1403.94,374.68 1403.95,376.79 1403.96,378.91 1403.98,381.02 1403.99,383.13 1404,385.25 1404.02,387.36 1404.03,389.48 1404.04,391.59 1404.06,393.71 1404.07,395.82 1404.08,397.93 1404.1,400.05 1404.11,402.16 1404.12,404.28 1404.14,406.39 1404.15,408.51 1404.16,410.62 1404.18,412.73 1404.19,414.85 1404.2,416.96 1404.22,419.08 1404.23,421.19 1404.24,423.31 1404.26,425.42 1404.27,427.53 1404.28,429.65 1404.3,431.76 1404.31,433.88 1404.32,435.99 1404.34,438.11 1404.35,440.22 1404.36,442.33 1404.38,444.45 1404.39,446.56 1404.4,448.68 1404.42,450.79 1404.43,452.91 1404.44,455.02 1404.46,457.13 1404.47,459.25 1404.48,461.36 1404.5,463.48 1404.51,465.59 1404.52,467.71 1404.54,469.82 1405.22,467.7 1405.9,466.32 1406.58,463.38 1407.25,462.26 1407.93,460.11 1408.68,457.8 1409.43,454.51 1410.18,452.08 1410.93,449.96 1411.68,447.6 1412.43,444.93 1413.18,442.68 1413.93,439.67 1414.26,437.11 1414.59,435.08 1414.93,432.6 1415.26,431.09 1415.59,427.62 1415.92,425.53 1416.92,423.62 1417.92,420.79 1418.92,418.94 1420.42,416.66 1421.92,413.61 1422.67,412.35 1423.42,410.46 1424.17,407.38 1424.91,405.3 1426.11,403.97 1427.31,402.31 1429.11,403.24 1430.91,404.27 1432.24,406.82 1433.57,408.8 1434.9,410.36 1435.65,412.68 1436.4,414.36 1437.15,417.38 1437.9,420.25 1438.65,421.32 1439.4,424.38 1440.15,425.5 1440.9,427.91 1441.65,430.23 1442.39,432.81 1443.14,435.21 1443.89,438.09 1444.32,440.56 1444.75,442.67 1445.18,444.25 1445.61,447.35 1446.03,449.44 1446.46,451.51 1446.89,454.01 1447.22,455.79 1447.56,458.36 1447.89,461.1 1448.22,463.31 1448.55,465.1 1448.89,467.41 1449.32,469.62 1449.74,472.39 1450.17,474.79 1450.6,476.87 1451.03,479.01 1451.46,481.18 1451.88,483.92 1452.48,485.83 1453.08,488.8 1453.68,490.79 1454.28,493.3 1454.88,495.44 1455.48,498.08 1456.08,500.55 1456.68,503.31 1457.28,505.66 1457.88,507.9 1458.54,509.85 1459.21,512.08 1459.88,513.71 1460.54,516.03 1461.21,517.71 1461.87,519.94 1463.54,520.89 1465.2,522.64 1466.87,523.94 1469.2,523.58 1471.53,523.52 1473.86,523.78 1476.19,524.75 1478.52,525.83 1480.85,526.94 1483.52,525.91 1486.18,525.43 1488.84,524.7 1490.84,524.03 1492.84,523.44 1494.84,522.7 1496.83,522.02 1498.83,520.64 1500.83,519.54 1502.83,518.79 1504.82,517.85 1508.82,518.86 1510.82,517 1512.82,515.18 1514.81,514.08 1517.81,514.35 1520.81,514.67 1523.3,514.57 1525.8,513.97 1527.8,515.49 1529.8,517.88 1532.79,518.09 1535.79,518.81 1537.79,520.12 1539.79,521.25 1541.78,523.03 1544.11,522.65 1546.44,521.96 1548.77,522 1550.77,522.48 1552.77,523.98 1554.77,524.77 1556.77,525.94 1558.76,527.57 1560.76,528.73 1563.76,528.35 1566.75,528.21 1569.42,529.11 1572.08,529.86 1574.75,530.26"/>
</g>
<text transform="translate(1382.9 539.3) scale(1 1.03)" font-size="17.5" text-anchor="end">0</text>
<text transform="translate(1382.9 490.98) scale(1 1.03)" font-size="17.5" text-anchor="end">25</text>
<text transform="translate(1382.9 442.65) scale(1 1.03)" font-size="17.5" text-anchor="end">50</text>
<text transform="translate(1382.9 394.33) scale(1 1.03)" font-size="17.5" text-anchor="end">75</text>
<text transform="translate(1382.9 346) scale(1 1.03)" font-size="17.5" text-anchor="end">100</text>
<text transform="translate(1385.9 564.4) scale(1 1.03)" font-size="17.5">10<tspan font-size="12.3" dy="-4.6">0</tspan></text>
<text transform="translate(1453.57 564.4) scale(1 1.03)" font-size="17.5">10<tspan font-size="12.3" dy="-4.6">1</tspan></text>
<text transform="translate(1521.24 564.4) scale(1 1.03)" font-size="17.5">10<tspan font-size="12.3" dy="-4.6">2</tspan></text>
<text transform="translate(1588.91 564.4) scale(1 1.03)" font-size="17.5">10<tspan font-size="12.3" dy="-4.6">3</tspan></text>
<text transform="translate(1656.58 564.4) scale(1 1.03)" font-size="17.5">10<tspan font-size="12.3" dy="-4.6">4</tspan></text>
</g>
<g id="D5">
<clipPath id="c14"><rect x="1051.45" y="582.15" width="274.15" height="196.75"/></clipPath>
<path d="M1040 776.7H1052.9M1047.1 764.62H1052.9M1047.1 752.54H1052.9M1047.1 740.46H1052.9M1040 728.38H1052.9M1047.1 716.29H1052.9M1047.1 704.21H1052.9M1047.1 692.13H1052.9M1040 680.05H1052.9M1047.1 667.97H1052.9M1047.1 655.89H1052.9M1047.1 643.81H1052.9M1040 631.73H1052.9M1047.1 619.64H1052.9M1047.1 607.56H1052.9M1047.1 595.48H1052.9M1040 582.8H1052.9" stroke="#000" stroke-width="2.2" fill="none"/>
<rect x="1053.45" y="584.15" width="270.15" height="192.55" fill="none" stroke="#000" stroke-width="4.7"/>
<path d="M1052.9 776.7V788.5M1073.27 776.7V781.8M1085.19 776.7V781.8M1093.64 776.7V781.8M1100.2 776.7V781.8" stroke="#000" stroke-width="2.25" fill="none"/>
<path d="M1105.56 776.7V781.8M1110.09 776.7V781.8M1114.01 776.7V781.8M1117.47 776.7V781.8M1120.57 776.7V788.5M1140.94 776.7V781.8M1152.86 776.7V781.8M1161.31 776.7V781.8M1167.87 776.7V781.8M1173.23 776.7V781.8M1177.76 776.7V781.8M1181.68 776.7V781.8M1185.14 776.7V781.8M1188.24 776.7V788.5M1208.61 776.7V781.8M1220.53 776.7V781.8M1228.98 776.7V781.8M1235.54 776.7V781.8M1240.9 776.7V781.8M1245.43 776.7V781.8M1249.35 776.7V781.8M1252.81 776.7V781.8M1255.91 776.7V788.5M1276.28 776.7V781.8M1288.2 776.7V781.8M1296.65 776.7V781.8M1303.21 776.7V781.8M1308.57 776.7V781.8M1313.1 776.7V781.8M1317.02 776.7V781.8M1320.48 776.7V781.8M1323.58 776.7V788.5" stroke="#062b70" stroke-width="2.25" fill="none"/>
<g clip-path="url(#c14)" fill="none" stroke="#000" stroke-width="3.1" stroke-linejoin="round" stroke-linecap="butt">
<polyline points="1064.93,770.76 1066.93,770.09 1068.93,769.47 1070.92,768.83 1072.26,766.69 1073.59,764.73 1074.92,762.63 1075.72,760.77 1076.52,758.69 1077.32,756.86 1078.12,754.91 1078.91,752.76 1079.66,750.23 1080.41,747.62 1081.16,745.36 1081.91,742.64 1082.66,740.43 1083.41,737.72 1084.16,735.26 1084.91,732.81 1085.57,730.13 1086.24,727.51 1086.91,724.87 1087.33,722.72 1087.76,720.41 1088.19,718.12 1088.62,715.68 1089.05,713.42 1089.47,711.18 1089.9,708.87 1090.33,706.69 1090.76,704.07 1091.19,701.9 1091.61,699.46 1092.04,697.56 1092.47,695.36 1092.9,692.87 1093.4,690.15 1093.9,687.74 1094.4,685.45 1094.9,683.09 1095.18,680.65 1095.47,678.17 1095.75,675.87 1096.04,673.76 1096.32,671.4 1096.61,669.2 1096.89,666.86 1097.14,664.41 1097.39,662.15 1097.64,659.98 1097.89,657.7 1098.14,655.75 1098.39,653.64 1098.64,651.03 1098.89,648.72 1099.89,647.12 1100.89,645.05 1101.89,642.89 1104.89,640.93 1107.88,638.99 1108.55,641.78 1109.21,644.27 1109.88,646.88 1110.16,649.3 1110.45,651.71 1110.74,654.03 1111.02,656.1 1111.31,658.42 1111.59,660.61 1111.88,662.9 1112.13,664.96 1112.38,667.57 1112.63,669.77 1112.88,672.08 1113.13,674.33 1113.38,676.16 1113.63,678.76 1113.88,680.88 1114.12,682.93 1114.37,685.58 1114.62,687.7 1114.87,689.67 1115.12,692.28 1115.37,694.26 1115.62,696.57 1115.87,698.81 1116.17,701.02 1116.47,703.46 1116.77,705.53 1117.07,707.7 1117.37,709.82 1117.67,712.11 1117.97,714.1 1118.27,716.41 1118.57,718.43 1118.87,720.74 1119.24,723.19 1119.62,725.14 1119.99,727.72 1120.37,729.69 1120.74,732.24 1121.12,734.12 1121.49,736.67 1121.87,738.93 1122.37,741.29 1122.86,743.59 1123.36,745.73 1123.86,748.03 1124.36,750.37 1124.86,752.94 1125.66,754.9 1126.46,756.74 1127.26,758.71 1128.06,760.79 1128.86,762.84 1130.52,764.79 1132.19,766.66 1133.85,768.72 1136.35,769.68 1138.85,770.66 1140.84,771.41 1142.84,772.17 1144.84,772.69 1148.84,771.86 1150.83,772.93 1152.83,774.1 1154.83,775.37" stroke-width="2.9" stroke-dasharray="9.5 5"/>
<polyline points="1055.34,775.4 1057.74,774.89 1060.14,774.2 1062.53,773.39 1064.93,772.58 1066.93,771.18 1068.93,770.11 1070.92,768.73 1072.26,766.83 1073.59,764.92 1074.92,762.5 1076.17,760.65 1077.42,759.08 1078.66,756.87 1079.91,754.74 1080.66,752.6 1081.41,749.73 1082.16,747.22 1082.91,745.11 1083.66,742.27 1084.41,740.12 1085.16,737.62 1085.91,735 1086.41,732.49 1086.91,729.48 1087.4,727.41 1087.9,724.95 1088.5,722.51 1089.1,720.38 1089.7,717.25 1090.3,715.44 1090.9,712.54 1091.33,710.67 1091.76,707.91 1092.19,706.14 1092.61,704.18 1093.04,701.73 1093.47,698.74 1093.9,696.43 1094.65,693.88 1095.4,692.09 1096.15,689.54 1096.89,686.88 1097.29,684.07 1097.69,682.41 1098.09,679.65 1098.49,676.8 1098.89,674.96 1099.37,671.94 1099.85,669.51 1100.33,668.18 1100.81,665.83 1101.29,662.68 1102.59,660.62 1103.89,658.85 1104.89,661.6 1105.88,664.01 1108.48,660.66 1108.88,663.2 1109.28,665.74 1109.68,668.05 1110.08,670.74 1110.48,672.98 1110.88,675.45 1111.16,677.01 1111.45,679.7 1111.73,681.45 1112.02,683.8 1112.31,685.89 1112.59,688.05 1112.88,690.39 1113.48,693.61 1114.07,695.86 1114.67,698.39 1115.27,700.06 1115.87,702.64 1116.16,704.75 1116.44,707.47 1116.73,709.44 1117.01,712.38 1117.3,713.91 1117.59,716.84 1117.87,718.71 1118.47,721.28 1119.07,724.04 1119.67,725.77 1120.27,728.85 1120.87,730.85 1121.62,733.14 1122.37,735.78 1123.11,737.96 1123.86,740.44 1124.61,742.4 1125.36,744.67 1126.11,746.66 1126.86,748.59 1127.86,750.81 1128.86,752.86 1129.86,755.12 1130.86,756.46 1132.85,757.73 1134.85,758.63 1136.35,757.1 1137.85,754.69 1138.85,756.65 1139.85,758.95 1140.84,761.06 1142.84,762 1144.84,763.69 1146.84,765.41 1148.84,766.67 1150.83,765.84 1152.83,764.95 1154.83,763.75 1156.83,764.69 1158.82,764.98 1160.82,765.76 1163.82,765.81 1166.82,765.69 1168.81,766.97 1170.81,768.34 1172.81,769.55 1176.8,768.97 1178.8,770.52 1180.8,772.75 1182.8,773.43 1184.8,774.69 1186.79,775.28 1189.08,775.51 1191.36,775.35 1193.64,775.52 1195.93,775.56 1198.21,775.6 1200.49,775.41 1202.77,775.22"/>
</g>
<text transform="translate(1037.3 784.3) scale(1 1.03)" font-size="17.5" text-anchor="end">0</text>
<text transform="translate(1037.3 735.98) scale(1 1.03)" font-size="17.5" text-anchor="end">25</text>
<text transform="translate(1037.3 687.65) scale(1 1.03)" font-size="17.5" text-anchor="end">50</text>
<text transform="translate(1037.3 639.33) scale(1 1.03)" font-size="17.5" text-anchor="end">75</text>
<text transform="translate(1037.3 591) scale(1 1.03)" font-size="17.5" text-anchor="end">100</text>
<text transform="translate(1040.3 809.4) scale(1 1.03)" font-size="17.5">10<tspan font-size="12.3" dy="-4.6">0</tspan></text>
<text transform="translate(1107.97 809.4) scale(1 1.03)" font-size="17.5">10<tspan font-size="12.3" dy="-4.6">1</tspan></text>
<text transform="translate(1175.64 809.4) scale(1 1.03)" font-size="17.5">10<tspan font-size="12.3" dy="-4.6">2</tspan></text>
<text transform="translate(1243.31 809.4) scale(1 1.03)" font-size="17.5">10<tspan font-size="12.3" dy="-4.6">3</tspan></text>
<text transform="translate(1310.98 809.4) scale(1 1.03)" font-size="17.5">10<tspan font-size="12.3" dy="-4.6">4</tspan></text>
</g>
<g id="D6">
<clipPath id="c15"><rect x="1397.05" y="581.75" width="274.15" height="197.15"/></clipPath>
<path d="M1385.6 776.7H1398.5M1392.7 764.59H1398.5M1392.7 752.49H1398.5M1392.7 740.38H1398.5M1385.6 728.28H1398.5M1392.7 716.17H1398.5M1392.7 704.06H1398.5M1392.7 691.96H1398.5M1385.6 679.85H1398.5M1392.7 667.74H1398.5M1392.7 655.64H1398.5M1392.7 643.53H1398.5M1385.6 631.42H1398.5M1392.7 619.32H1398.5M1392.7 607.21H1398.5M1392.7 595.11H1398.5M1385.6 582.4H1398.5" stroke="#000" stroke-width="2.2" fill="none"/>
<rect x="1399.05" y="583.75" width="270.15" height="192.95" fill="none" stroke="#000" stroke-width="4.7"/>
<path d="M1398.5 776.7V788.5M1418.87 776.7V781.8M1430.79 776.7V781.8M1439.24 776.7V781.8M1445.8 776.7V781.8" stroke="#000" stroke-width="2.25" fill="none"/>
<path d="M1451.16 776.7V781.8M1455.69 776.7V781.8M1459.61 776.7V781.8M1463.07 776.7V781.8M1466.17 776.7V788.5M1486.54 776.7V781.8M1498.46 776.7V781.8M1506.91 776.7V781.8M1513.47 776.7V781.8M1518.83 776.7V781.8M1523.36 776.7V781.8M1527.28 776.7V781.8M1530.74 776.7V781.8M1533.84 776.7V788.5M1554.21 776.7V781.8M1566.13 776.7V781.8M1574.58 776.7V781.8M1581.14 776.7V781.8M1586.5 776.7V781.8M1591.03 776.7V781.8M1594.95 776.7V781.8M1598.41 776.7V781.8M1601.51 776.7V788.5M1621.88 776.7V781.8M1633.8 776.7V781.8M1642.25 776.7V781.8M1648.81 776.7V781.8M1654.17 776.7V781.8M1658.7 776.7V781.8M1662.62 776.7V781.8M1666.08 776.7V781.8M1669.18 776.7V788.5" stroke="#062b70" stroke-width="2.25" fill="none"/>
<g clip-path="url(#c15)" fill="none" stroke="#000" stroke-width="3.1" stroke-linejoin="round" stroke-linecap="butt">
<polyline points="1438.9,775.4 1440.9,774.46 1442.89,773.73 1444.89,772.7 1445.89,770.75 1446.89,768.86 1447.89,766.76 1448.64,764.86 1449.39,762.81 1450.14,760.67 1450.89,758.75 1451.48,756.23 1452.08,753.82 1452.68,751.45 1453.28,749.11 1453.88,746.85 1454.21,744.61 1454.55,742.52 1454.88,740.09 1455.21,737.82 1455.55,735.81 1455.88,733.55 1456.21,731.33 1456.55,728.98 1456.88,726.87 1457.21,724.54 1457.54,722.2 1457.88,720.24 1458.21,717.94 1458.54,715.87 1458.88,713.36 1459.21,711.34 1459.54,709.13 1459.88,706.98 1460.16,704.65 1460.45,702.39 1460.73,699.97 1461.02,697.66 1461.3,695.26 1461.59,692.91 1461.87,690.93 1462.09,688.67 1462.32,686.25 1462.54,684.2 1462.76,681.77 1462.98,679.87 1463.2,677.35 1463.43,675.16 1463.65,673.16 1463.87,670.97 1464.09,668.75 1464.31,666.26 1464.54,663.98 1464.76,662.03 1464.98,659.5 1465.2,657.6 1465.42,655.52 1465.65,653.28 1465.87,651.16 1466.15,648.54 1466.44,646.24 1466.72,644.29 1467.01,641.93 1467.3,639.58 1467.58,637.08 1467.87,634.99 1468.37,632.58 1468.86,629.65 1469.36,627.2 1469.86,624.93 1472.86,626.15 1475.26,629.11 1475.91,631.15 1476.56,633.79 1477.21,636.56 1477.85,639.14 1478.14,641.02 1478.43,643.69 1478.71,645.98 1479,647.85 1479.28,650.39 1479.57,652.64 1479.85,654.89 1480.28,657.06 1480.71,659.72 1481.14,661.62 1481.56,664.17 1481.99,666.05 1482.42,668.39 1482.85,671.08 1483.28,673.29 1483.71,675.52 1484.13,677.67 1484.56,679.89 1484.99,682.31 1485.42,684.42 1485.85,686.85 1486.18,688.93 1486.51,691.05 1486.84,693.73 1487.18,695.75 1487.51,698.06 1487.84,700.33 1488.18,702.29 1488.51,704.5 1488.84,706.95 1489.27,709.15 1489.7,711.2 1490.13,713.89 1490.55,715.79 1490.98,718.3 1491.41,720.61 1491.84,722.64 1492.5,725.09 1493.17,727.63 1493.84,729.83 1494.5,732 1495.17,734.45 1495.83,736.82 1496.83,738.75 1497.83,740.85 1498.83,742.75 1499.83,744.75 1501.08,746.94 1502.33,748.63 1503.58,750.91 1504.82,752.79 1506.02,754.85 1507.22,756.72 1508.42,758.62 1509.62,760.77 1510.82,762.84 1512.82,764.11 1514.81,765.41 1516.81,766.65 1518.81,768.39 1520.81,770.12 1522.8,771.74 1524.8,772.99 1526.8,774.11 1528.8,775.4" stroke-width="2.9" stroke-dasharray="9.5 5"/>
<polyline points="1420.92,775.4 1423.42,775.35 1425.91,775.49 1428.41,775.4 1430.91,775.58 1432.91,773.44 1434.9,771.73 1436.24,769.16 1437.57,767.23 1438.9,764.53 1440.23,763.05 1441.56,760.56 1442.89,758.49 1443.49,756.41 1444.09,754.28 1444.69,751.72 1445.29,749.54 1445.89,746.48 1446.39,744.4 1446.89,742.13 1447.39,740.1 1447.89,737.6 1448.39,734.78 1448.89,732.71 1449.17,730.63 1449.46,728.23 1449.74,725.74 1450.03,724.07 1450.31,721.13 1450.6,718.92 1450.89,716.81 1451.22,714.54 1451.55,712.37 1451.88,709.99 1452.22,707.62 1452.55,705.67 1452.88,702.87 1453.28,700.66 1453.68,698.35 1454.08,696.13 1454.48,693.03 1454.88,690.86 1455.17,688.21 1455.45,686.71 1455.74,683.72 1456.02,682.16 1456.31,679.37 1456.59,677.39 1456.88,674.66 1457.16,672.41 1457.45,669.83 1457.73,667.65 1458.02,665.54 1458.31,663.44 1458.59,661.73 1458.88,658.64 1459.16,657.09 1459.45,654.23 1459.73,652.2 1460.02,649.17 1460.3,647.47 1460.59,645.71 1460.87,643.04 1461.21,640.38 1461.54,638.55 1461.87,636.36 1462.21,633.85 1462.54,631.07 1462.87,628.61 1463.27,626.03 1463.67,623.97 1464.07,621.55 1464.47,619.63 1464.95,622.56 1465.43,624.67 1465.91,626.61 1466.39,628.22 1466.87,630.43 1467.53,633.69 1468.2,635.68 1468.86,639.08 1469.53,641.92 1470.2,643.99 1470.86,646.57 1471.2,649.7 1471.53,651.34 1471.86,653.56 1472.19,656.55 1472.53,659.15 1472.86,660.46 1473.29,662.64 1473.72,665.99 1474.14,667.91 1474.57,670.24 1475,672.71 1475.43,674.06 1475.86,677.32 1476.19,679.51 1476.52,682.02 1476.86,683.9 1477.19,686.66 1477.52,688.93 1477.85,691.03 1478.08,692.75 1478.3,695.38 1478.52,697.76 1478.74,699.53 1478.96,701.99 1479.19,704.38 1479.41,706.75 1479.63,708.35 1479.85,710.99 1480.52,713.51 1481.18,715.99 1481.85,719.08 1482.28,721.46 1482.71,723.26 1483.13,725.89 1483.56,728.2 1483.99,730.48 1484.42,732.19 1484.85,735.19 1485.6,737.18 1486.35,738.71 1487.09,740.51 1487.84,743.07 1488.64,745.09 1489.44,746.9 1490.24,748.77 1491.04,750.63 1491.84,752.68 1493.5,754.65 1495.17,756.69 1496.83,758.83 1498.83,760.56 1500.83,762.86 1502.83,764.59 1504.82,766.77 1506.82,768.52 1508.82,769.96 1510.82,770.7 1512.82,771.8 1514.81,772.69 1516.81,773.56 1518.81,774.15 1520.81,774.91 1522.8,775.2 1525.05,775.57 1527.3,775.45 1529.55,775.22 1531.79,775.54 1534.29,775.48 1536.79,775.44"/>
</g>
<text transform="translate(1382.9 784.3) scale(1 1.03)" font-size="17.5" text-anchor="end">0</text>
<text transform="translate(1382.9 735.88) scale(1 1.03)" font-size="17.5" text-anchor="end">25</text>
<text transform="translate(1382.9 687.45) scale(1 1.03)" font-size="17.5" text-anchor="end">50</text>
<text transform="translate(1382.9 639.02) scale(1 1.03)" font-size="17.5" text-anchor="end">75</text>
<text transform="translate(1382.9 590.6) scale(1 1.03)" font-size="17.5" text-anchor="end">100</text>
<text transform="translate(1385.9 809.4) scale(1 1.03)" font-size="17.5">10<tspan font-size="12.3" dy="-4.6">0</tspan></text>
<text transform="translate(1453.57 809.4) scale(1 1.03)" font-size="17.5">10<tspan font-size="12.3" dy="-4.6">1</tspan></text>
<text transform="translate(1521.24 809.4) scale(1 1.03)" font-size="17.5">10<tspan font-size="12.3" dy="-4.6">2</tspan></text>
<text transform="translate(1588.91 809.4) scale(1 1.03)" font-size="17.5">10<tspan font-size="12.3" dy="-4.6">3</tspan></text>
<text transform="translate(1656.58 809.4) scale(1 1.03)" font-size="17.5">10<tspan font-size="12.3" dy="-4.6">4</tspan></text>
</g>
<g id="D7">
<clipPath id="c16"><rect x="1051.85" y="831.15" width="274.15" height="196.75"/></clipPath>
<path d="M1040.4 1025.7H1053.3M1047.5 1013.62H1053.3M1047.5 1001.54H1053.3M1047.5 989.46H1053.3M1040.4 977.38H1053.3M1047.5 965.29H1053.3M1047.5 953.21H1053.3M1047.5 941.13H1053.3M1040.4 929.05H1053.3M1047.5 916.97H1053.3M1047.5 904.89H1053.3M1047.5 892.81H1053.3M1040.4 880.73H1053.3M1047.5 868.64H1053.3M1047.5 856.56H1053.3M1047.5 844.48H1053.3M1040.4 831.8H1053.3" stroke="#000" stroke-width="2.2" fill="none"/>
<rect x="1053.85" y="833.15" width="270.15" height="192.55" fill="none" stroke="#000" stroke-width="4.7"/>
<path d="M1053.3 1025.7V1037.5M1073.67 1025.7V1030.8M1085.59 1025.7V1030.8M1094.04 1025.7V1030.8M1100.6 1025.7V1030.8" stroke="#000" stroke-width="2.25" fill="none"/>
<path d="M1105.96 1025.7V1030.8M1110.49 1025.7V1030.8M1114.41 1025.7V1030.8M1117.87 1025.7V1030.8M1120.97 1025.7V1037.5M1141.34 1025.7V1030.8M1153.26 1025.7V1030.8M1161.71 1025.7V1030.8M1168.27 1025.7V1030.8M1173.63 1025.7V1030.8M1178.16 1025.7V1030.8M1182.08 1025.7V1030.8M1185.54 1025.7V1030.8M1188.64 1025.7V1037.5M1209.01 1025.7V1030.8M1220.93 1025.7V1030.8M1229.38 1025.7V1030.8M1235.94 1025.7V1030.8M1241.3 1025.7V1030.8M1245.83 1025.7V1030.8M1249.75 1025.7V1030.8M1253.21 1025.7V1030.8M1256.31 1025.7V1037.5M1276.68 1025.7V1030.8M1288.6 1025.7V1030.8M1297.05 1025.7V1030.8M1303.61 1025.7V1030.8M1308.97 1025.7V1030.8M1313.5 1025.7V1030.8M1317.42 1025.7V1030.8M1320.88 1025.7V1030.8M1323.98 1025.7V1037.5" stroke="#062b70" stroke-width="2.25" fill="none"/>
<g clip-path="url(#c16)" fill="none" stroke="#000" stroke-width="3.1" stroke-linejoin="round" stroke-linecap="butt">
<polyline points="1055.34,1021.75 1057.21,1019.67 1059.07,1017.72 1060.93,1015.68 1062.18,1013.86 1063.43,1011.71 1064.68,1009.79 1065.93,1007.84 1066.6,1005.92 1067.26,1003.91 1067.93,1001.74 1068.59,999.83 1069.26,997.71 1069.92,995.93 1070.42,993.53 1070.92,990.95 1071.42,988.73 1071.92,986.31 1072.42,984.19 1072.92,981.78 1073.25,979.47 1073.59,976.99 1073.92,974.79 1074.25,972.66 1074.59,970.28 1074.92,967.85 1075.2,965.32 1075.49,963.18 1075.78,961.08 1076.06,958.65 1076.35,956.54 1076.63,954.07 1076.92,951.69 1077.34,949.55 1077.77,947.03 1078.2,945.1 1078.63,942.61 1079.06,940.31 1079.49,937.98 1079.91,935.7 1080.2,933.62 1080.48,931.18 1080.77,928.98 1081.05,926.63 1081.34,924.45 1081.63,922.1 1081.91,919.78 1082.2,917.76 1082.48,915.35 1082.77,912.8 1083.05,910.98 1083.34,908.69 1083.62,906.28 1083.91,904.15 1084.51,901.78 1085.11,899.24 1085.71,897.36 1086.31,894.93 1086.91,893.12 1088.9,891.67 1090.9,890.81 1092.7,889.52 1094.5,887.66 1095.3,890.85 1096.1,893.26 1096.89,895.98 1097.18,898.37 1097.46,900.32 1097.75,902.55 1098.04,904.76 1098.32,907.55 1098.61,909.47 1098.89,911.68 1099.64,913.72 1100.39,916.07 1101.14,917.86 1101.89,919.61 1102.32,922.36 1102.74,924.5 1103.17,926.68 1103.6,929.09 1104.03,931.35 1104.46,933.52 1104.89,935.94 1105.11,938.02 1105.33,940.45 1105.55,942.69 1105.77,944.96 1106,946.85 1106.22,949.1 1106.44,951.4 1106.66,953.62 1106.88,955.85 1107.16,958.05 1107.43,960.29 1107.7,962.46 1107.97,964.55 1108.25,966.75 1108.52,968.8 1108.79,970.88 1109.06,973.24 1109.33,975.27 1109.61,977.56 1109.88,979.86 1110.31,981.98 1110.74,984.5 1111.16,986.55 1111.59,988.77 1112.02,991.23 1112.45,993.61 1112.88,995.64 1113.48,998.09 1114.07,1000.72 1114.67,1003.07 1115.27,1005.31 1115.87,1007.62 1116.87,1009.75 1117.87,1011.71 1118.87,1013.67 1119.87,1015.85 1120.87,1018.03 1121.87,1020.4 1122.86,1022.79" stroke-width="2.9" stroke-dasharray="9.5 5"/>
<polyline points="1088.9,1024.4 1091.03,1024.28 1093.15,1024.37 1095.27,1024.26 1097.39,1024.37 1099.52,1024.49 1101.64,1024.28 1103.76,1024.51 1105.88,1024.58 1108.01,1024.55 1110.13,1024.39 1112.25,1024.27 1114.37,1024.22 1116.5,1024.3 1118.62,1024.3 1120.74,1024.44 1122.86,1024.34 1125.08,1024.28 1127.3,1024.42 1129.52,1024.4 1131.74,1024.31 1133.96,1024.47 1136.18,1024.38 1138.4,1024.43 1140.62,1024.25 1142.84,1024.49 1145.51,1023.92 1148.17,1023.2 1150.83,1022.67 1152.83,1021.59 1154.83,1020.71 1156.83,1019.93 1157.63,1017.89 1158.42,1015.87 1159.22,1013.61 1160.02,1011.89 1160.82,1009.47 1161.32,1007.51 1161.82,1004.82 1162.32,1003.1 1162.82,1000.31 1163.32,998.43 1163.82,995.77 1164.57,993.8 1165.32,991.65 1166.07,989.77 1166.82,987.56 1167.31,985.4 1167.81,982.88 1168.31,981.21 1168.81,978.88 1169.31,975.75 1169.81,974.24 1170.06,971.66 1170.31,969.34 1170.56,967.04 1170.81,965.21 1171.06,962.34 1171.31,960.34 1171.56,958.09 1171.81,955.6 1172.03,953.81 1172.25,951.3 1172.48,949.36 1172.7,947.14 1172.92,944.2 1173.14,942.83 1173.36,940.26 1173.59,938.6 1173.81,935.32 1174.31,933.62 1174.81,931.7 1175.31,929.03 1175.81,926.32 1176.3,923.72 1176.8,922.17 1177.2,920.02 1177.6,916.71 1178,914.81 1178.4,912.79 1178.8,909.31 1179.2,907.12 1179.6,904.82 1180,903.07 1180.4,900.92 1180.8,898.08 1183.8,900.43 1185.79,899.61 1186.46,903.17 1187.13,905.83 1187.79,907.66 1188.54,910.71 1189.29,912.68 1190.04,915.2 1190.79,917.81 1191.45,915.88 1192.12,912.81 1192.79,910.93 1193.12,912.46 1193.45,915.4 1193.79,916.86 1194.12,919.26 1194.45,921.93 1194.78,923.46 1195.38,926.22 1195.98,929.09 1196.58,930.65 1197.18,933.18 1197.78,935.7 1198.18,937.8 1198.58,940.28 1198.98,943.22 1199.38,945.01 1199.78,947.48 1200.18,949.88 1200.58,952.42 1200.98,955.02 1201.38,957.77 1201.78,960.09 1203.77,957.6 1204.17,959.89 1204.57,962.95 1204.97,965.29 1205.37,967.66 1205.77,970.19 1206.06,971.73 1206.34,974.47 1206.63,976.38 1206.91,978.59 1207.2,981.18 1207.48,983.93 1207.77,986.21 1208.52,987.63 1209.27,989.71 1210.02,991.94 1210.77,993.74 1211.27,996.33 1211.76,998.8 1212.26,1001.01 1212.76,1003.97 1213.76,1005.54 1214.76,1007.78 1215.76,1009.53 1216.76,1012 1218.09,1013.72 1219.42,1015.75 1220.75,1017.67 1222.75,1019.37 1224.75,1021.23 1226.75,1022.87 1229.41,1023.36 1232.08,1023.96 1234.74,1024.45"/>
</g>
<text transform="translate(1037.7 1033.3) scale(1 1.03)" font-size="17.5" text-anchor="end">0</text>
<text transform="translate(1037.7 984.98) scale(1 1.03)" font-size="17.5" text-anchor="end">25</text>
<text transform="translate(1037.7 936.65) scale(1 1.03)" font-size="17.5" text-anchor="end">50</text>
<text transform="translate(1037.7 888.33) scale(1 1.03)" font-size="17.5" text-anchor="end">75</text>
<text transform="translate(1037.7 840) scale(1 1.03)" font-size="17.5" text-anchor="end">100</text>
<text transform="translate(1040.7 1058.4) scale(1 1.03)" font-size="17.5">10<tspan font-size="12.3" dy="-4.6">0</tspan></text>
<text transform="translate(1108.37 1058.4) scale(1 1.03)" font-size="17.5">10<tspan font-size="12.3" dy="-4.6">1</tspan></text>
<text transform="translate(1176.04 1058.4) scale(1 1.03)" font-size="17.5">10<tspan font-size="12.3" dy="-4.6">2</tspan></text>
<text transform="translate(1243.71 1058.4) scale(1 1.03)" font-size="17.5">10<tspan font-size="12.3" dy="-4.6">3</tspan></text>
<text transform="translate(1311.38 1058.4) scale(1 1.03)" font-size="17.5">10<tspan font-size="12.3" dy="-4.6">4</tspan></text>
</g>
<g id="D8">
<clipPath id="c17"><rect x="1397.05" y="830.75" width="274.15" height="197.15"/></clipPath>
<path d="M1385.6 1025.7H1398.5M1392.7 1013.59H1398.5M1392.7 1001.49H1398.5M1392.7 989.38H1398.5M1385.6 977.28H1398.5M1392.7 965.17H1398.5M1392.7 953.06H1398.5M1392.7 940.96H1398.5M1385.6 928.85H1398.5M1392.7 916.74H1398.5M1392.7 904.64H1398.5M1392.7 892.53H1398.5M1385.6 880.42H1398.5M1392.7 868.32H1398.5M1392.7 856.21H1398.5M1392.7 844.11H1398.5M1385.6 831.4H1398.5" stroke="#000" stroke-width="2.2" fill="none"/>
<rect x="1399.05" y="832.75" width="270.15" height="192.95" fill="none" stroke="#000" stroke-width="4.7"/>
<path d="M1398.5 1025.7V1037.5M1418.87 1025.7V1030.8M1430.79 1025.7V1030.8M1439.24 1025.7V1030.8M1445.8 1025.7V1030.8" stroke="#000" stroke-width="2.25" fill="none"/>
<path d="M1451.16 1025.7V1030.8M1455.69 1025.7V1030.8M1459.61 1025.7V1030.8M1463.07 1025.7V1030.8M1466.17 1025.7V1037.5M1486.54 1025.7V1030.8M1498.46 1025.7V1030.8M1506.91 1025.7V1030.8M1513.47 1025.7V1030.8M1518.83 1025.7V1030.8M1523.36 1025.7V1030.8M1527.28 1025.7V1030.8M1530.74 1025.7V1030.8M1533.84 1025.7V1037.5M1554.21 1025.7V1030.8M1566.13 1025.7V1030.8M1574.58 1025.7V1030.8M1581.14 1025.7V1030.8M1586.5 1025.7V1030.8M1591.03 1025.7V1030.8M1594.95 1025.7V1030.8M1598.41 1025.7V1030.8M1601.51 1025.7V1037.5M1621.88 1025.7V1030.8M1633.8 1025.7V1030.8M1642.25 1025.7V1030.8M1648.81 1025.7V1030.8M1654.17 1025.7V1030.8M1658.7 1025.7V1030.8M1662.62 1025.7V1030.8M1666.08 1025.7V1030.8M1669.18 1025.7V1037.5" stroke="#062b70" stroke-width="2.25" fill="none"/>
<g clip-path="url(#c17)" fill="none" stroke="#000" stroke-width="3.1" stroke-linejoin="round" stroke-linecap="butt">
<polyline points="1401.34,1024.4 1403.87,1024.45 1406.4,1024.33 1408.93,1024.43 1410.93,1023.61 1412.93,1022.61 1414.93,1021.69 1416.59,1019.72 1418.26,1017.86 1419.92,1015.79 1420.72,1013.68 1421.52,1011.71 1422.32,1009.89 1423.12,1007.7 1423.92,1005.86 1424.51,1003.24 1425.11,1001.13 1425.71,998.68 1426.31,996.35 1426.91,993.81 1427.51,991.4 1428.11,988.87 1428.71,986.69 1429.31,984.28 1429.91,981.94 1430.41,979.33 1430.91,976.94 1431.41,974.96 1431.91,972.37 1432.41,970.26 1432.91,967.91 1433.33,965.36 1433.76,963.22 1434.19,960.95 1434.62,958.79 1435.05,956.32 1435.47,954.22 1435.9,951.81 1436.3,949.23 1436.7,947.01 1437.1,944.67 1437.5,942.45 1437.9,939.8 1438.33,937.69 1438.76,935.11 1439.18,932.95 1439.61,930.9 1440.04,928.21 1440.47,926.28 1440.9,923.99 1441.18,921.67 1441.47,919.14 1441.75,916.84 1442.04,914.63 1442.32,912.36 1442.61,910.35 1442.89,907.74 1443.18,905.76 1443.46,903.14 1443.75,901 1444.04,898.56 1444.32,896.67 1444.61,894.26 1444.89,892.16 1445.29,889.47 1445.69,886.92 1446.09,884.79 1446.49,882.47 1446.89,879.99 1447.56,877.01 1448.22,874.79 1448.89,871.74 1451.28,869.74 1453.08,871.67 1454.88,872.66 1455.28,874.99 1455.68,877.21 1456.08,879.22 1456.48,882 1456.88,883.8 1457.11,886.37 1457.34,888.33 1457.56,890.52 1457.79,892.85 1458.02,895.38 1458.25,897.36 1458.48,899.68 1458.68,902.4 1458.88,904.34 1459.08,906.48 1459.28,909.2 1459.48,911.07 1459.68,913.56 1459.88,915.66 1460.1,918.35 1460.32,920.45 1460.54,922.5 1460.76,924.63 1460.98,926.94 1461.21,929.37 1461.43,931.38 1461.65,933.49 1461.87,936.06 1462.07,938.08 1462.27,940.23 1462.47,942.57 1462.67,944.74 1462.87,946.95 1463.07,949.1 1463.27,951.01 1463.47,953.48 1463.67,955.85 1463.87,957.95 1464.12,960 1464.37,962.49 1464.62,964.64 1464.87,966.69 1465.12,969.19 1465.37,971.44 1465.62,973.71 1465.87,975.74 1466.15,978.17 1466.44,980.2 1466.72,982.81 1467.01,985.02 1467.3,987.23 1467.58,989.35 1467.87,991.61 1468.37,994.15 1468.86,996.41 1469.36,998.86 1469.86,1001.05 1470.36,1003.58 1470.86,1005.82 1471.61,1008.27 1472.36,1010.79 1473.11,1013.28 1473.86,1015.73 1475.19,1017.38 1476.52,1019.11 1477.85,1020.74 1480.35,1022.62 1482.85,1024.44" stroke-width="2.9" stroke-dasharray="9.5 5"/>
<polyline points="1424.91,1024.4 1427.91,1023.42 1430.91,1022.84 1432.91,1020.98 1434.9,1018.74 1436.57,1017.15 1438.23,1015.67 1439.9,1013.86 1440.7,1011.74 1441.5,1010.02 1442.29,1007.67 1443.09,1005.78 1443.89,1003.68 1445.22,1001.87 1446.56,999.95 1447.89,997.52 1448.64,995.22 1449.39,992.76 1450.14,990.57 1450.89,988.09 1451.28,985.36 1451.68,982.68 1452.08,980.75 1452.48,978.4 1452.88,975.73 1453.28,973.05 1453.68,971.47 1454.08,968.36 1454.48,966.05 1454.88,963.81 1455.28,961.03 1455.68,958.75 1456.08,956.29 1456.48,954.18 1456.88,952.13 1457.28,949.11 1457.68,946.66 1458.08,944.82 1458.48,942.37 1458.88,939.75 1459.28,937.79 1459.68,934.8 1460.07,932.62 1460.47,929.92 1460.87,927.72 1461.27,925.53 1461.67,922.55 1462.07,920.32 1462.47,918.12 1462.87,915.34 1463.67,914.44 1464.47,912.47 1465.27,910.16 1465.67,907.28 1466.07,904.7 1466.47,902.88 1466.87,900.82 1467.27,898.33 1469.86,896.34 1470.38,893.4 1470.9,891.81 1471.42,889.66 1471.94,887.74 1472.46,885.52 1473.26,887.36 1474.06,889.6 1474.86,891.26 1476.36,894.19 1477.85,895.42 1478.25,898.01 1478.65,901.14 1479.05,902.87 1479.45,905.17 1479.85,907.62 1480.13,910.88 1480.41,912.18 1480.69,915.24 1480.97,917.42 1481.25,919.4 1482.15,921.59 1483.05,923.39 1483.95,925.97 1484.85,928.29 1486.35,929.38 1487.84,931.86 1488.13,933.82 1488.41,936.24 1488.7,938.46 1488.99,940.65 1489.27,942.74 1489.56,945.38 1489.84,948.08 1492.84,945.81 1493.44,948.41 1494.04,950.17 1494.64,952.92 1495.24,955.49 1495.83,957.36 1496.43,959.9 1497.03,963.05 1497.63,964.55 1498.23,967.66 1498.83,969.39 1499.58,972.07 1500.33,974.73 1501.08,977.57 1501.83,980.15 1503.83,981.26 1505.82,982.41 1507.82,983.46 1508.22,986.53 1508.62,988.63 1509.02,991.39 1509.42,993.03 1509.82,995.84 1511.32,997.68 1512.82,999.91 1513.48,1002.6 1514.15,1005 1514.81,1007.49 1516.81,1009.51 1518.81,1011.52 1520.14,1013.83 1521.47,1016.03 1522.8,1017.85 1524.8,1019.38 1526.8,1020.71 1529.8,1019.88 1531.79,1022.17 1533.79,1024.58 1535.93,1024.32 1538.07,1024.27 1540.21,1024.53 1542.35,1024.26 1544.49,1024.28 1546.63,1024.24 1548.77,1024.57"/>
</g>
<text transform="translate(1382.9 1033.3) scale(1 1.03)" font-size="17.5" text-anchor="end">0</text>
<text transform="translate(1382.9 984.88) scale(1 1.03)" font-size="17.5" text-anchor="end">25</text>
<text transform="translate(1382.9 936.45) scale(1 1.03)" font-size="17.5" text-anchor="end">50</text>
<text transform="translate(1382.9 888.02) scale(1 1.03)" font-size="17.5" text-anchor="end">75</text>
<text transform="translate(1382.9 839.6) scale(1 1.03)" font-size="17.5" text-anchor="end">100</text>
<text transform="translate(1385.9 1058.4) scale(1 1.03)" font-size="17.5">10<tspan font-size="12.3" dy="-4.6">0</tspan></text>
<text transform="translate(1453.57 1058.4) scale(1 1.03)" font-size="17.5">10<tspan font-size="12.3" dy="-4.6">1</tspan></text>
<text transform="translate(1521.24 1058.4) scale(1 1.03)" font-size="17.5">10<tspan font-size="12.3" dy="-4.6">2</tspan></text>
<text transform="translate(1588.91 1058.4) scale(1 1.03)" font-size="17.5">10<tspan font-size="12.3" dy="-4.6">3</tspan></text>
<text transform="translate(1656.58 1058.4) scale(1 1.03)" font-size="17.5">10<tspan font-size="12.3" dy="-4.6">4</tspan></text>
</g>
<text transform="translate(1709.64 204.5) scale(1 1.015)" font-size="35.5" textLength="222.01" lengthAdjust="spacing">human PBMC</text>
<text transform="translate(1709.81 455.2) scale(1 1.015)" font-size="35.5" textLength="229.84" lengthAdjust="spacing">porcine PBMC</text>
<text transform="translate(1709.85 698.4) scale(1 1.03)" font-size="35.5" textLength="155.31" lengthAdjust="spacing">300-19 wt</text>
<text transform="translate(1708.95 945.6) scale(1 1.03)" font-size="35.5" textLength="296.8" lengthAdjust="spacing">300-19 CD45-ABC</text>
<text transform="translate(998.1 1030.86) rotate(-90) scale(1 1.0)" font-size="35.5" textLength="240.84" lengthAdjust="spacing">number of cells</text>
<line x1="987.2" y1="761.3" x2="987.2" y2="651" stroke="#000" stroke-width="2.8"/>
<polygon points="987.2,634.2 978.3,652 996.1,652" fill="#000"/>
<text x="1053.7" y="1108.2" font-size="35.5" textLength="424.7" lengthAdjust="spacing">fluorescence intensity (log)</text>
<line x1="1488.4" y1="1097.1" x2="1598.9" y2="1097.1" stroke="#000" stroke-width="2.8"/>
<polygon points="1615.7,1097.1 1597.9,1088.2 1597.9,1106" fill="#000"/>
</svg>
</body>
</html>
